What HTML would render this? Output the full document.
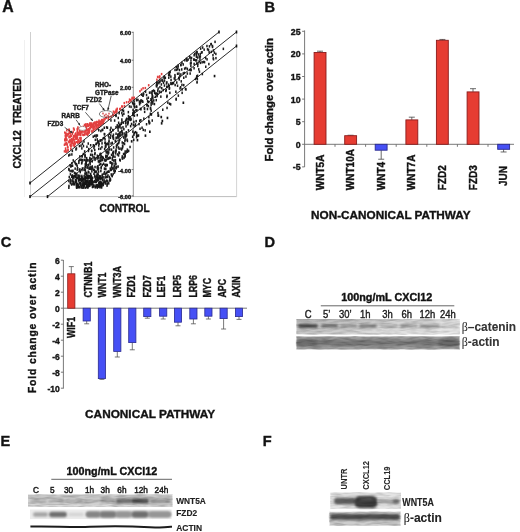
<!DOCTYPE html>
<html><head><meta charset="utf-8"><style>
html,body{margin:0;padding:0;background:#fff;width:520px;height:532px;overflow:hidden;}
svg{display:block;font-family:"Liberation Sans",sans-serif;filter:blur(0.55px);}
text{stroke:#1a1a1a;stroke-width:0.4px;font-family:"Liberation Sans",sans-serif;}
</style></head><body>
<svg width="520" height="532" viewBox="0 0 520 532">
<defs>
<filter id="bl" x="-20%" y="-50%" width="140%" height="200%"><feGaussianBlur stdDeviation="0.9"/></filter>
<filter id="grain" x="0" y="0" width="100%" height="100%" filterUnits="objectBoundingBox"><feTurbulence type="fractalNoise" baseFrequency="0.09 0.45" numOctaves="2" seed="5"/><feColorMatrix type="matrix" values="0 0 0 0 0  0 0 0 0 0  0 0 0 0 0  1.6 0 0 0 -0.55"/></filter>
<filter id="bl2" x="-20%" y="-50%" width="140%" height="200%"><feGaussianBlur stdDeviation="1.6"/></filter>
<linearGradient id="gD1" x1="0" y1="0" x2="0" y2="1">
<stop offset="0" stop-color="#b8b8b8"/><stop offset="0.18" stop-color="#c8c8c8"/><stop offset="0.5" stop-color="#d0d0d0"/><stop offset="1" stop-color="#d8d8d8"/></linearGradient>
<linearGradient id="gD1h" x1="0" y1="0" x2="1" y2="0">
<stop offset="0" stop-color="#000" stop-opacity="0.06"/><stop offset="0.45" stop-color="#fff" stop-opacity="0.12"/><stop offset="1" stop-color="#fff" stop-opacity="0.5"/></linearGradient>
<linearGradient id="gD2" x1="0" y1="0" x2="0" y2="1">
<stop offset="0" stop-color="#a4a4a4"/><stop offset="0.5" stop-color="#8a8a8a"/><stop offset="1" stop-color="#a8a8a8"/></linearGradient>
</defs>
<text transform="translate(2.20,12.30)" font-size="15.80" font-weight="bold" fill="#111" >A</text>
<line x1="30.50" y1="32.00" x2="30.50" y2="197.00" stroke="#cfcfcf" stroke-width="1.00"/>
<line x1="24.50" y1="40.00" x2="24.50" y2="197.00" stroke="#f0f0f0" stroke-width="1.00"/>
<line x1="30.00" y1="196.60" x2="237.00" y2="196.60" stroke="#bdbdbd" stroke-width="1.00"/>
<line x1="236.60" y1="32.00" x2="236.60" y2="197.00" stroke="#d4d4d4" stroke-width="1.00"/>
<line x1="133.30" y1="31.80" x2="133.30" y2="197.00" stroke="#8a8a8a" stroke-width="0.90"/>
<line x1="131.60" y1="32.30" x2="133.30" y2="32.30" stroke="#555" stroke-width="0.80"/>
<text transform="translate(131.00,35.20)" font-size="5.60" font-weight="bold" text-anchor="end" fill="#222" >6.00</text>
<line x1="131.60" y1="60.20" x2="133.30" y2="60.20" stroke="#555" stroke-width="0.80"/>
<text transform="translate(131.00,63.10)" font-size="5.60" font-weight="bold" text-anchor="end" fill="#222" >4.00</text>
<line x1="131.60" y1="87.30" x2="133.30" y2="87.30" stroke="#555" stroke-width="0.80"/>
<text transform="translate(131.00,90.20)" font-size="5.60" font-weight="bold" text-anchor="end" fill="#222" >2.00</text>
<line x1="131.60" y1="169.60" x2="133.30" y2="169.60" stroke="#555" stroke-width="0.80"/>
<text transform="translate(131.00,172.50)" font-size="5.60" font-weight="bold" text-anchor="end" fill="#222" >-4.00</text>
<line x1="131.60" y1="195.80" x2="133.30" y2="195.80" stroke="#555" stroke-width="0.80"/>
<text transform="translate(131.00,198.70)" font-size="5.60" font-weight="bold" text-anchor="end" fill="#222" >-6.00</text>
<rect x="189.4" y="72.3" width="1.5" height="2.5" fill="#1c1c1c"/>
<rect x="136.5" y="113.9" width="1.5" height="2.5" fill="#1c1c1c"/>
<rect x="176.0" y="68.6" width="1.5" height="2.5" fill="#1c1c1c"/>
<rect x="123.1" y="127.9" width="1.5" height="2.5" fill="#1c1c1c"/>
<rect x="89.3" y="160.4" width="1.5" height="2.5" fill="#1c1c1c"/>
<rect x="94.1" y="170.5" width="1.5" height="2.5" fill="#1c1c1c"/>
<rect x="156.4" y="94.8" width="1.5" height="2.5" fill="#1c1c1c"/>
<rect x="120.3" y="126.7" width="1.5" height="2.5" fill="#1c1c1c"/>
<rect x="194.9" y="59.1" width="1.5" height="2.5" fill="#1c1c1c"/>
<rect x="157.0" y="89.4" width="1.5" height="2.5" fill="#1c1c1c"/>
<rect x="105.4" y="158.8" width="1.5" height="2.5" fill="#1c1c1c"/>
<rect x="83.4" y="174.8" width="1.5" height="2.5" fill="#1c1c1c"/>
<rect x="211.8" y="45.7" width="1.5" height="2.5" fill="#1c1c1c"/>
<rect x="201.9" y="46.3" width="1.5" height="2.5" fill="#1c1c1c"/>
<rect x="208.1" y="62.8" width="1.5" height="2.5" fill="#1c1c1c"/>
<rect x="169.4" y="70.7" width="1.5" height="2.5" fill="#1c1c1c"/>
<rect x="187.4" y="58.3" width="1.5" height="2.5" fill="#1c1c1c"/>
<rect x="114.3" y="162.8" width="1.5" height="2.5" fill="#1c1c1c"/>
<rect x="70.6" y="164.6" width="1.5" height="2.5" fill="#1c1c1c"/>
<rect x="127.3" y="120.4" width="1.5" height="2.5" fill="#1c1c1c"/>
<rect x="212.5" y="57.1" width="1.5" height="2.5" fill="#1c1c1c"/>
<rect x="95.7" y="175.0" width="1.5" height="2.5" fill="#1c1c1c"/>
<rect x="94.6" y="138.6" width="1.5" height="2.5" fill="#1c1c1c"/>
<rect x="205.0" y="65.5" width="1.5" height="2.5" fill="#1c1c1c"/>
<rect x="83.4" y="184.7" width="1.5" height="2.5" fill="#1c1c1c"/>
<rect x="102.2" y="183.3" width="1.5" height="2.5" fill="#1c1c1c"/>
<rect x="79.9" y="182.6" width="1.5" height="2.5" fill="#1c1c1c"/>
<rect x="118.9" y="138.5" width="1.5" height="2.5" fill="#1c1c1c"/>
<rect x="75.7" y="147.2" width="1.5" height="2.5" fill="#1c1c1c"/>
<rect x="108.0" y="170.5" width="1.5" height="2.5" fill="#1c1c1c"/>
<rect x="125.0" y="120.1" width="1.5" height="2.5" fill="#1c1c1c"/>
<rect x="125.5" y="133.7" width="1.5" height="2.5" fill="#1c1c1c"/>
<rect x="97.8" y="182.1" width="1.5" height="2.5" fill="#1c1c1c"/>
<rect x="116.7" y="153.2" width="1.5" height="2.5" fill="#1c1c1c"/>
<rect x="135.9" y="134.1" width="1.5" height="2.5" fill="#1c1c1c"/>
<rect x="99.5" y="180.8" width="1.5" height="2.5" fill="#1c1c1c"/>
<rect x="162.5" y="88.8" width="1.5" height="2.5" fill="#1c1c1c"/>
<rect x="200.7" y="51.3" width="1.5" height="2.5" fill="#1c1c1c"/>
<rect x="115.3" y="132.5" width="1.5" height="2.5" fill="#1c1c1c"/>
<rect x="98.0" y="147.6" width="1.5" height="2.5" fill="#1c1c1c"/>
<rect x="168.8" y="87.0" width="1.5" height="2.5" fill="#1c1c1c"/>
<rect x="212.7" y="49.2" width="1.5" height="2.5" fill="#1c1c1c"/>
<rect x="159.1" y="80.6" width="1.5" height="2.5" fill="#1c1c1c"/>
<rect x="118.2" y="151.3" width="1.5" height="2.5" fill="#1c1c1c"/>
<rect x="183.0" y="76.5" width="1.5" height="2.5" fill="#1c1c1c"/>
<rect x="86.3" y="183.7" width="1.5" height="2.5" fill="#1c1c1c"/>
<rect x="85.9" y="173.7" width="1.5" height="2.5" fill="#1c1c1c"/>
<rect x="125.2" y="151.5" width="1.5" height="2.5" fill="#1c1c1c"/>
<rect x="117.0" y="133.6" width="1.5" height="2.5" fill="#1c1c1c"/>
<rect x="112.7" y="133.5" width="1.5" height="2.5" fill="#1c1c1c"/>
<rect x="129.9" y="124.9" width="1.5" height="2.5" fill="#1c1c1c"/>
<rect x="121.0" y="129.6" width="1.5" height="2.5" fill="#1c1c1c"/>
<rect x="89.9" y="144.0" width="1.5" height="2.5" fill="#1c1c1c"/>
<rect x="98.0" y="144.3" width="1.5" height="2.5" fill="#1c1c1c"/>
<rect x="104.5" y="181.9" width="1.5" height="2.5" fill="#1c1c1c"/>
<rect x="207.8" y="48.7" width="1.5" height="2.5" fill="#1c1c1c"/>
<rect x="104.3" y="167.8" width="1.5" height="2.5" fill="#1c1c1c"/>
<rect x="115.1" y="114.0" width="1.5" height="2.5" fill="#1c1c1c"/>
<rect x="177.0" y="67.7" width="1.5" height="2.5" fill="#1c1c1c"/>
<rect x="151.7" y="95.6" width="1.5" height="2.5" fill="#1c1c1c"/>
<rect x="112.6" y="136.6" width="1.5" height="2.5" fill="#1c1c1c"/>
<rect x="111.6" y="158.4" width="1.5" height="2.5" fill="#1c1c1c"/>
<rect x="151.9" y="95.2" width="1.5" height="2.5" fill="#1c1c1c"/>
<rect x="132.8" y="102.7" width="1.5" height="2.5" fill="#1c1c1c"/>
<rect x="171.6" y="81.9" width="1.5" height="2.5" fill="#1c1c1c"/>
<rect x="104.7" y="145.8" width="1.5" height="2.5" fill="#1c1c1c"/>
<rect x="87.1" y="186.4" width="1.5" height="2.5" fill="#1c1c1c"/>
<rect x="127.7" y="114.9" width="1.5" height="2.5" fill="#1c1c1c"/>
<rect x="140.2" y="108.0" width="1.5" height="2.5" fill="#1c1c1c"/>
<rect x="84.3" y="168.4" width="1.5" height="2.5" fill="#1c1c1c"/>
<rect x="112.3" y="154.7" width="1.5" height="2.5" fill="#1c1c1c"/>
<rect x="208.4" y="51.1" width="1.5" height="2.5" fill="#1c1c1c"/>
<rect x="117.2" y="126.9" width="1.5" height="2.5" fill="#1c1c1c"/>
<rect x="214.3" y="40.6" width="1.5" height="2.5" fill="#1c1c1c"/>
<rect x="170.1" y="81.9" width="1.5" height="2.5" fill="#1c1c1c"/>
<rect x="85.6" y="162.5" width="1.5" height="2.5" fill="#1c1c1c"/>
<rect x="193.4" y="62.7" width="1.5" height="2.5" fill="#1c1c1c"/>
<rect x="213.6" y="51.4" width="1.5" height="2.5" fill="#1c1c1c"/>
<rect x="78.7" y="144.8" width="1.5" height="2.5" fill="#1c1c1c"/>
<rect x="81.1" y="147.1" width="1.5" height="2.5" fill="#1c1c1c"/>
<rect x="103.1" y="172.5" width="1.5" height="2.5" fill="#1c1c1c"/>
<rect x="68.0" y="154.2" width="1.5" height="2.5" fill="#1c1c1c"/>
<rect x="122.7" y="121.4" width="1.5" height="2.5" fill="#1c1c1c"/>
<rect x="87.4" y="182.6" width="1.5" height="2.5" fill="#1c1c1c"/>
<rect x="178.5" y="78.1" width="1.5" height="2.5" fill="#1c1c1c"/>
<rect x="174.3" y="68.7" width="1.5" height="2.5" fill="#1c1c1c"/>
<rect x="107.1" y="142.6" width="1.5" height="2.5" fill="#1c1c1c"/>
<rect x="126.7" y="139.7" width="1.5" height="2.5" fill="#1c1c1c"/>
<rect x="85.6" y="171.6" width="1.5" height="2.5" fill="#1c1c1c"/>
<rect x="123.1" y="112.5" width="1.5" height="2.5" fill="#1c1c1c"/>
<rect x="123.3" y="156.6" width="1.5" height="2.5" fill="#1c1c1c"/>
<rect x="168.4" y="71.7" width="1.5" height="2.5" fill="#1c1c1c"/>
<rect x="102.6" y="137.0" width="1.5" height="2.5" fill="#1c1c1c"/>
<rect x="121.8" y="114.1" width="1.5" height="2.5" fill="#1c1c1c"/>
<rect x="101.9" y="178.8" width="1.5" height="2.5" fill="#1c1c1c"/>
<rect x="168.8" y="102.5" width="1.5" height="2.5" fill="#1c1c1c"/>
<rect x="106.3" y="155.1" width="1.5" height="2.5" fill="#1c1c1c"/>
<rect x="160.4" y="90.7" width="1.5" height="2.5" fill="#1c1c1c"/>
<rect x="81.8" y="159.1" width="1.5" height="2.5" fill="#1c1c1c"/>
<rect x="130.3" y="105.6" width="1.5" height="2.5" fill="#1c1c1c"/>
<rect x="125.5" y="131.0" width="1.5" height="2.5" fill="#1c1c1c"/>
<rect x="96.9" y="157.2" width="1.5" height="2.5" fill="#1c1c1c"/>
<rect x="151.5" y="90.0" width="1.5" height="2.5" fill="#1c1c1c"/>
<rect x="104.7" y="144.1" width="1.5" height="2.5" fill="#1c1c1c"/>
<rect x="148.1" y="115.9" width="1.5" height="2.5" fill="#1c1c1c"/>
<rect x="151.2" y="92.1" width="1.5" height="2.5" fill="#1c1c1c"/>
<rect x="131.9" y="135.5" width="1.5" height="2.5" fill="#1c1c1c"/>
<rect x="91.1" y="170.1" width="1.5" height="2.5" fill="#1c1c1c"/>
<rect x="105.0" y="155.4" width="1.5" height="2.5" fill="#1c1c1c"/>
<rect x="134.0" y="106.0" width="1.5" height="2.5" fill="#1c1c1c"/>
<rect x="103.5" y="180.6" width="1.5" height="2.5" fill="#1c1c1c"/>
<rect x="109.8" y="178.4" width="1.5" height="2.5" fill="#1c1c1c"/>
<rect x="79.1" y="168.1" width="1.5" height="2.5" fill="#1c1c1c"/>
<rect x="122.9" y="142.0" width="1.5" height="2.5" fill="#1c1c1c"/>
<rect x="112.9" y="159.3" width="1.5" height="2.5" fill="#1c1c1c"/>
<rect x="126.8" y="150.5" width="1.5" height="2.5" fill="#1c1c1c"/>
<rect x="71.2" y="179.4" width="1.5" height="2.5" fill="#1c1c1c"/>
<rect x="85.4" y="161.0" width="1.5" height="2.5" fill="#1c1c1c"/>
<rect x="82.6" y="152.8" width="1.5" height="2.5" fill="#1c1c1c"/>
<rect x="156.2" y="81.2" width="1.5" height="2.5" fill="#1c1c1c"/>
<rect x="79.1" y="182.1" width="1.5" height="2.5" fill="#1c1c1c"/>
<rect x="105.3" y="149.8" width="1.5" height="2.5" fill="#1c1c1c"/>
<rect x="115.2" y="162.6" width="1.5" height="2.5" fill="#1c1c1c"/>
<rect x="106.4" y="179.6" width="1.5" height="2.5" fill="#1c1c1c"/>
<rect x="100.5" y="165.8" width="1.5" height="2.5" fill="#1c1c1c"/>
<rect x="165.5" y="88.9" width="1.5" height="2.5" fill="#1c1c1c"/>
<rect x="97.4" y="155.4" width="1.5" height="2.5" fill="#1c1c1c"/>
<rect x="107.3" y="152.8" width="1.5" height="2.5" fill="#1c1c1c"/>
<rect x="115.3" y="114.7" width="1.5" height="2.5" fill="#1c1c1c"/>
<rect x="154.7" y="92.4" width="1.5" height="2.5" fill="#1c1c1c"/>
<rect x="115.4" y="167.1" width="1.5" height="2.5" fill="#1c1c1c"/>
<rect x="94.0" y="152.9" width="1.5" height="2.5" fill="#1c1c1c"/>
<rect x="71.7" y="174.2" width="1.5" height="2.5" fill="#1c1c1c"/>
<rect x="84.6" y="165.5" width="1.5" height="2.5" fill="#1c1c1c"/>
<rect x="166.3" y="94.5" width="1.5" height="2.5" fill="#1c1c1c"/>
<rect x="106.8" y="151.0" width="1.5" height="2.5" fill="#1c1c1c"/>
<rect x="89.1" y="181.9" width="1.5" height="2.5" fill="#1c1c1c"/>
<rect x="142.9" y="92.8" width="1.5" height="2.5" fill="#1c1c1c"/>
<rect x="142.5" y="128.6" width="1.5" height="2.5" fill="#1c1c1c"/>
<rect x="109.2" y="179.4" width="1.5" height="2.5" fill="#1c1c1c"/>
<rect x="201.3" y="51.0" width="1.5" height="2.5" fill="#1c1c1c"/>
<rect x="81.2" y="155.0" width="1.5" height="2.5" fill="#1c1c1c"/>
<rect x="102.8" y="182.2" width="1.5" height="2.5" fill="#1c1c1c"/>
<rect x="75.2" y="148.2" width="1.5" height="2.5" fill="#1c1c1c"/>
<rect x="133.1" y="133.5" width="1.5" height="2.5" fill="#1c1c1c"/>
<rect x="183.6" y="71.7" width="1.5" height="2.5" fill="#1c1c1c"/>
<rect x="196.6" y="78.0" width="1.5" height="2.5" fill="#1c1c1c"/>
<rect x="68.5" y="175.8" width="1.5" height="2.5" fill="#1c1c1c"/>
<rect x="93.1" y="185.1" width="1.5" height="2.5" fill="#1c1c1c"/>
<rect x="93.6" y="168.9" width="1.5" height="2.5" fill="#1c1c1c"/>
<rect x="94.3" y="152.0" width="1.5" height="2.5" fill="#1c1c1c"/>
<rect x="106.6" y="182.9" width="1.5" height="2.5" fill="#1c1c1c"/>
<rect x="112.6" y="136.2" width="1.5" height="2.5" fill="#1c1c1c"/>
<rect x="139.7" y="107.6" width="1.5" height="2.5" fill="#1c1c1c"/>
<rect x="199.7" y="61.6" width="1.5" height="2.5" fill="#1c1c1c"/>
<rect x="190.1" y="64.8" width="1.5" height="2.5" fill="#1c1c1c"/>
<rect x="84.6" y="162.9" width="1.5" height="2.5" fill="#1c1c1c"/>
<rect x="100.0" y="162.8" width="1.5" height="2.5" fill="#1c1c1c"/>
<rect x="126.0" y="117.5" width="1.5" height="2.5" fill="#1c1c1c"/>
<rect x="91.0" y="149.7" width="1.5" height="2.5" fill="#1c1c1c"/>
<rect x="71.1" y="175.4" width="1.5" height="2.5" fill="#1c1c1c"/>
<rect x="133.7" y="114.4" width="1.5" height="2.5" fill="#1c1c1c"/>
<rect x="163.5" y="76.9" width="1.5" height="2.5" fill="#1c1c1c"/>
<rect x="104.3" y="138.2" width="1.5" height="2.5" fill="#1c1c1c"/>
<rect x="198.7" y="70.4" width="1.5" height="2.5" fill="#1c1c1c"/>
<rect x="88.0" y="181.2" width="1.5" height="2.5" fill="#1c1c1c"/>
<rect x="100.4" y="167.0" width="1.5" height="2.5" fill="#1c1c1c"/>
<rect x="166.2" y="85.6" width="1.5" height="2.5" fill="#1c1c1c"/>
<rect x="162.8" y="81.6" width="1.5" height="2.5" fill="#1c1c1c"/>
<rect x="74.9" y="172.2" width="1.5" height="2.5" fill="#1c1c1c"/>
<rect x="100.4" y="183.0" width="1.5" height="2.5" fill="#1c1c1c"/>
<rect x="135.5" y="105.4" width="1.5" height="2.5" fill="#1c1c1c"/>
<rect x="108.0" y="182.1" width="1.5" height="2.5" fill="#1c1c1c"/>
<rect x="71.4" y="170.1" width="1.5" height="2.5" fill="#1c1c1c"/>
<rect x="195.8" y="76.5" width="1.5" height="2.5" fill="#1c1c1c"/>
<rect x="183.9" y="67.4" width="1.5" height="2.5" fill="#1c1c1c"/>
<rect x="104.7" y="141.5" width="1.5" height="2.5" fill="#1c1c1c"/>
<rect x="111.8" y="167.3" width="1.5" height="2.5" fill="#1c1c1c"/>
<rect x="128.7" y="105.2" width="1.5" height="2.5" fill="#1c1c1c"/>
<rect x="100.1" y="129.8" width="1.5" height="2.5" fill="#1c1c1c"/>
<rect x="114.5" y="169.7" width="1.5" height="2.5" fill="#1c1c1c"/>
<rect x="74.4" y="167.4" width="1.5" height="2.5" fill="#1c1c1c"/>
<rect x="100.0" y="175.2" width="1.5" height="2.5" fill="#1c1c1c"/>
<rect x="124.3" y="153.5" width="1.5" height="2.5" fill="#1c1c1c"/>
<rect x="91.5" y="160.1" width="1.5" height="2.5" fill="#1c1c1c"/>
<rect x="129.5" y="118.7" width="1.5" height="2.5" fill="#1c1c1c"/>
<rect x="79.5" y="170.9" width="1.5" height="2.5" fill="#1c1c1c"/>
<rect x="211.7" y="44.7" width="1.5" height="2.5" fill="#1c1c1c"/>
<rect x="117.5" y="125.8" width="1.5" height="2.5" fill="#1c1c1c"/>
<rect x="97.6" y="160.1" width="1.5" height="2.5" fill="#1c1c1c"/>
<rect x="103.1" y="176.1" width="1.5" height="2.5" fill="#1c1c1c"/>
<rect x="147.6" y="104.8" width="1.5" height="2.5" fill="#1c1c1c"/>
<rect x="153.7" y="90.0" width="1.5" height="2.5" fill="#1c1c1c"/>
<rect x="166.1" y="85.7" width="1.5" height="2.5" fill="#1c1c1c"/>
<rect x="121.7" y="147.0" width="1.5" height="2.5" fill="#1c1c1c"/>
<rect x="94.8" y="177.8" width="1.5" height="2.5" fill="#1c1c1c"/>
<rect x="139.0" y="119.5" width="1.5" height="2.5" fill="#1c1c1c"/>
<rect x="121.1" y="129.8" width="1.5" height="2.5" fill="#1c1c1c"/>
<rect x="103.8" y="170.9" width="1.5" height="2.5" fill="#1c1c1c"/>
<rect x="132.6" y="113.7" width="1.5" height="2.5" fill="#1c1c1c"/>
<rect x="95.0" y="178.3" width="1.5" height="2.5" fill="#1c1c1c"/>
<rect x="101.7" y="174.7" width="1.5" height="2.5" fill="#1c1c1c"/>
<rect x="72.1" y="182.7" width="1.5" height="2.5" fill="#1c1c1c"/>
<rect x="133.4" y="104.4" width="1.5" height="2.5" fill="#1c1c1c"/>
<rect x="106.0" y="171.8" width="1.5" height="2.5" fill="#1c1c1c"/>
<rect x="132.9" y="110.1" width="1.5" height="2.5" fill="#1c1c1c"/>
<rect x="129.3" y="145.7" width="1.5" height="2.5" fill="#1c1c1c"/>
<rect x="114.3" y="159.1" width="1.5" height="2.5" fill="#1c1c1c"/>
<rect x="197.6" y="53.2" width="1.5" height="2.5" fill="#1c1c1c"/>
<rect x="94.7" y="170.5" width="1.5" height="2.5" fill="#1c1c1c"/>
<rect x="121.6" y="132.0" width="1.5" height="2.5" fill="#1c1c1c"/>
<rect x="95.2" y="157.2" width="1.5" height="2.5" fill="#1c1c1c"/>
<rect x="175.5" y="65.9" width="1.5" height="2.5" fill="#1c1c1c"/>
<rect x="94.3" y="165.8" width="1.5" height="2.5" fill="#1c1c1c"/>
<rect x="88.5" y="179.8" width="1.5" height="2.5" fill="#1c1c1c"/>
<rect x="194.8" y="77.7" width="1.5" height="2.5" fill="#1c1c1c"/>
<rect x="107.2" y="174.2" width="1.5" height="2.5" fill="#1c1c1c"/>
<rect x="180.1" y="63.8" width="1.5" height="2.5" fill="#1c1c1c"/>
<rect x="108.8" y="132.5" width="1.5" height="2.5" fill="#1c1c1c"/>
<rect x="105.2" y="154.5" width="1.5" height="2.5" fill="#1c1c1c"/>
<rect x="97.1" y="185.6" width="1.5" height="2.5" fill="#1c1c1c"/>
<rect x="120.2" y="130.9" width="1.5" height="2.5" fill="#1c1c1c"/>
<rect x="68.1" y="167.8" width="1.5" height="2.5" fill="#1c1c1c"/>
<rect x="87.2" y="179.1" width="1.5" height="2.5" fill="#1c1c1c"/>
<rect x="99.1" y="186.0" width="1.5" height="2.5" fill="#1c1c1c"/>
<rect x="160.2" y="79.3" width="1.5" height="2.5" fill="#1c1c1c"/>
<rect x="129.5" y="118.2" width="1.5" height="2.5" fill="#1c1c1c"/>
<rect x="105.2" y="155.8" width="1.5" height="2.5" fill="#1c1c1c"/>
<rect x="118.4" y="111.9" width="1.5" height="2.5" fill="#1c1c1c"/>
<rect x="106.5" y="163.9" width="1.5" height="2.5" fill="#1c1c1c"/>
<rect x="69.8" y="181.8" width="1.5" height="2.5" fill="#1c1c1c"/>
<rect x="81.9" y="158.8" width="1.5" height="2.5" fill="#1c1c1c"/>
<rect x="75.6" y="180.4" width="1.5" height="2.5" fill="#1c1c1c"/>
<rect x="81.1" y="174.7" width="1.5" height="2.5" fill="#1c1c1c"/>
<rect x="123.8" y="142.7" width="1.5" height="2.5" fill="#1c1c1c"/>
<rect x="97.8" y="167.1" width="1.5" height="2.5" fill="#1c1c1c"/>
<rect x="93.2" y="180.8" width="1.5" height="2.5" fill="#1c1c1c"/>
<rect x="222.6" y="47.6" width="1.5" height="2.5" fill="#1c1c1c"/>
<rect x="133.5" y="110.4" width="1.5" height="2.5" fill="#1c1c1c"/>
<rect x="123.0" y="136.3" width="1.5" height="2.5" fill="#1c1c1c"/>
<rect x="89.2" y="166.2" width="1.5" height="2.5" fill="#1c1c1c"/>
<rect x="79.2" y="158.6" width="1.5" height="2.5" fill="#1c1c1c"/>
<rect x="153.9" y="91.5" width="1.5" height="2.5" fill="#1c1c1c"/>
<rect x="96.8" y="167.9" width="1.5" height="2.5" fill="#1c1c1c"/>
<rect x="108.6" y="175.7" width="1.5" height="2.5" fill="#1c1c1c"/>
<rect x="99.3" y="152.8" width="1.5" height="2.5" fill="#1c1c1c"/>
<rect x="181.2" y="61.5" width="1.5" height="2.5" fill="#1c1c1c"/>
<rect x="103.7" y="167.4" width="1.5" height="2.5" fill="#1c1c1c"/>
<rect x="113.1" y="169.3" width="1.5" height="2.5" fill="#1c1c1c"/>
<rect x="72.3" y="169.6" width="1.5" height="2.5" fill="#1c1c1c"/>
<rect x="161.4" y="78.6" width="1.5" height="2.5" fill="#1c1c1c"/>
<rect x="132.0" y="113.4" width="1.5" height="2.5" fill="#1c1c1c"/>
<rect x="210.2" y="43.0" width="1.5" height="2.5" fill="#1c1c1c"/>
<rect x="91.0" y="157.8" width="1.5" height="2.5" fill="#1c1c1c"/>
<rect x="112.6" y="150.8" width="1.5" height="2.5" fill="#1c1c1c"/>
<rect x="135.8" y="99.0" width="1.5" height="2.5" fill="#1c1c1c"/>
<rect x="106.8" y="175.6" width="1.5" height="2.5" fill="#1c1c1c"/>
<rect x="116.5" y="124.1" width="1.5" height="2.5" fill="#1c1c1c"/>
<rect x="110.2" y="126.6" width="1.5" height="2.5" fill="#1c1c1c"/>
<rect x="113.9" y="164.9" width="1.5" height="2.5" fill="#1c1c1c"/>
<rect x="101.2" y="139.0" width="1.5" height="2.5" fill="#1c1c1c"/>
<rect x="97.4" y="141.5" width="1.5" height="2.5" fill="#1c1c1c"/>
<rect x="141.3" y="126.5" width="1.5" height="2.5" fill="#1c1c1c"/>
<rect x="182.5" y="72.2" width="1.5" height="2.5" fill="#1c1c1c"/>
<rect x="75.0" y="179.5" width="1.5" height="2.5" fill="#1c1c1c"/>
<rect x="98.9" y="183.1" width="1.5" height="2.5" fill="#1c1c1c"/>
<rect x="206.3" y="58.1" width="1.5" height="2.5" fill="#1c1c1c"/>
<rect x="150.2" y="113.3" width="1.5" height="2.5" fill="#1c1c1c"/>
<rect x="104.9" y="159.3" width="1.5" height="2.5" fill="#1c1c1c"/>
<rect x="176.8" y="72.5" width="1.5" height="2.5" fill="#1c1c1c"/>
<rect x="143.6" y="106.8" width="1.5" height="2.5" fill="#1c1c1c"/>
<rect x="98.4" y="174.9" width="1.5" height="2.5" fill="#1c1c1c"/>
<rect x="195.7" y="55.6" width="1.5" height="2.5" fill="#1c1c1c"/>
<rect x="134.2" y="124.6" width="1.5" height="2.5" fill="#1c1c1c"/>
<rect x="74.9" y="175.4" width="1.5" height="2.5" fill="#1c1c1c"/>
<rect x="84.3" y="155.6" width="1.5" height="2.5" fill="#1c1c1c"/>
<rect x="72.5" y="159.2" width="1.5" height="2.5" fill="#1c1c1c"/>
<rect x="121.2" y="120.4" width="1.5" height="2.5" fill="#1c1c1c"/>
<rect x="112.3" y="166.6" width="1.5" height="2.5" fill="#1c1c1c"/>
<rect x="95.4" y="180.7" width="1.5" height="2.5" fill="#1c1c1c"/>
<rect x="117.8" y="154.2" width="1.5" height="2.5" fill="#1c1c1c"/>
<rect x="78.1" y="176.6" width="1.5" height="2.5" fill="#1c1c1c"/>
<rect x="78.0" y="184.1" width="1.5" height="2.5" fill="#1c1c1c"/>
<rect x="107.3" y="148.5" width="1.5" height="2.5" fill="#1c1c1c"/>
<rect x="101.6" y="163.8" width="1.5" height="2.5" fill="#1c1c1c"/>
<rect x="125.9" y="134.1" width="1.5" height="2.5" fill="#1c1c1c"/>
<rect x="127.9" y="149.6" width="1.5" height="2.5" fill="#1c1c1c"/>
<rect x="78.7" y="176.3" width="1.5" height="2.5" fill="#1c1c1c"/>
<rect x="103.9" y="133.1" width="1.5" height="2.5" fill="#1c1c1c"/>
<rect x="122.1" y="132.4" width="1.5" height="2.5" fill="#1c1c1c"/>
<rect x="108.3" y="139.3" width="1.5" height="2.5" fill="#1c1c1c"/>
<rect x="163.6" y="76.6" width="1.5" height="2.5" fill="#1c1c1c"/>
<rect x="134.7" y="123.2" width="1.5" height="2.5" fill="#1c1c1c"/>
<rect x="77.3" y="174.8" width="1.5" height="2.5" fill="#1c1c1c"/>
<rect x="127.7" y="129.1" width="1.5" height="2.5" fill="#1c1c1c"/>
<rect x="199.2" y="57.7" width="1.5" height="2.5" fill="#1c1c1c"/>
<rect x="196.0" y="75.1" width="1.5" height="2.5" fill="#1c1c1c"/>
<rect x="155.8" y="85.1" width="1.5" height="2.5" fill="#1c1c1c"/>
<rect x="93.2" y="146.7" width="1.5" height="2.5" fill="#1c1c1c"/>
<rect x="89.6" y="167.6" width="1.5" height="2.5" fill="#1c1c1c"/>
<rect x="118.3" y="140.1" width="1.5" height="2.5" fill="#1c1c1c"/>
<rect x="96.5" y="174.1" width="1.5" height="2.5" fill="#1c1c1c"/>
<rect x="135.8" y="136.0" width="1.5" height="2.5" fill="#1c1c1c"/>
<rect x="210.6" y="50.6" width="1.5" height="2.5" fill="#1c1c1c"/>
<rect x="100.5" y="155.1" width="1.5" height="2.5" fill="#1c1c1c"/>
<rect x="89.9" y="153.5" width="1.5" height="2.5" fill="#1c1c1c"/>
<rect x="103.9" y="147.7" width="1.5" height="2.5" fill="#1c1c1c"/>
<rect x="92.3" y="181.0" width="1.5" height="2.5" fill="#1c1c1c"/>
<rect x="189.1" y="55.8" width="1.5" height="2.5" fill="#1c1c1c"/>
<rect x="104.2" y="159.3" width="1.5" height="2.5" fill="#1c1c1c"/>
<rect x="141.5" y="99.8" width="1.5" height="2.5" fill="#1c1c1c"/>
<rect x="117.9" y="121.5" width="1.5" height="2.5" fill="#1c1c1c"/>
<rect x="175.4" y="98.3" width="1.5" height="2.5" fill="#1c1c1c"/>
<rect x="195.6" y="54.0" width="1.5" height="2.5" fill="#1c1c1c"/>
<rect x="130.4" y="118.2" width="1.5" height="2.5" fill="#1c1c1c"/>
<rect x="193.4" y="54.0" width="1.5" height="2.5" fill="#1c1c1c"/>
<rect x="178.0" y="76.6" width="1.5" height="2.5" fill="#1c1c1c"/>
<rect x="133.2" y="111.1" width="1.5" height="2.5" fill="#1c1c1c"/>
<rect x="92.8" y="168.6" width="1.5" height="2.5" fill="#1c1c1c"/>
<rect x="87.0" y="165.4" width="1.5" height="2.5" fill="#1c1c1c"/>
<rect x="125.3" y="118.7" width="1.5" height="2.5" fill="#1c1c1c"/>
<rect x="91.9" y="166.8" width="1.5" height="2.5" fill="#1c1c1c"/>
<rect x="110.8" y="153.6" width="1.5" height="2.5" fill="#1c1c1c"/>
<rect x="197.0" y="64.7" width="1.5" height="2.5" fill="#1c1c1c"/>
<rect x="69.4" y="169.8" width="1.5" height="2.5" fill="#1c1c1c"/>
<rect x="99.4" y="139.2" width="1.5" height="2.5" fill="#1c1c1c"/>
<rect x="125.8" y="150.2" width="1.5" height="2.5" fill="#1c1c1c"/>
<rect x="75.8" y="163.0" width="1.5" height="2.5" fill="#1c1c1c"/>
<rect x="118.4" y="134.2" width="1.5" height="2.5" fill="#1c1c1c"/>
<rect x="75.5" y="176.6" width="1.5" height="2.5" fill="#1c1c1c"/>
<rect x="111.5" y="141.6" width="1.5" height="2.5" fill="#1c1c1c"/>
<rect x="121.9" y="157.2" width="1.5" height="2.5" fill="#1c1c1c"/>
<rect x="177.6" y="94.4" width="1.5" height="2.5" fill="#1c1c1c"/>
<rect x="193.0" y="58.3" width="1.5" height="2.5" fill="#1c1c1c"/>
<rect x="101.0" y="184.6" width="1.5" height="2.5" fill="#1c1c1c"/>
<rect x="180.5" y="80.1" width="1.5" height="2.5" fill="#1c1c1c"/>
<rect x="76.4" y="185.9" width="1.5" height="2.5" fill="#1c1c1c"/>
<rect x="73.1" y="177.0" width="1.5" height="2.5" fill="#1c1c1c"/>
<rect x="212.2" y="54.0" width="1.5" height="2.5" fill="#1c1c1c"/>
<rect x="119.0" y="158.5" width="1.5" height="2.5" fill="#1c1c1c"/>
<rect x="179.3" y="87.2" width="1.5" height="2.5" fill="#1c1c1c"/>
<rect x="172.1" y="82.0" width="1.5" height="2.5" fill="#1c1c1c"/>
<rect x="104.8" y="176.1" width="1.5" height="2.5" fill="#1c1c1c"/>
<rect x="136.0" y="98.5" width="1.5" height="2.5" fill="#1c1c1c"/>
<rect x="132.3" y="112.6" width="1.5" height="2.5" fill="#1c1c1c"/>
<rect x="196.8" y="74.5" width="1.5" height="2.5" fill="#1c1c1c"/>
<rect x="86.9" y="180.5" width="1.5" height="2.5" fill="#1c1c1c"/>
<rect x="80.9" y="162.1" width="1.5" height="2.5" fill="#1c1c1c"/>
<rect x="118.7" y="151.8" width="1.5" height="2.5" fill="#1c1c1c"/>
<rect x="95.7" y="142.8" width="1.5" height="2.5" fill="#1c1c1c"/>
<rect x="149.0" y="121.7" width="1.5" height="2.5" fill="#1c1c1c"/>
<rect x="87.7" y="185.3" width="1.5" height="2.5" fill="#1c1c1c"/>
<rect x="196.2" y="51.3" width="1.5" height="2.5" fill="#1c1c1c"/>
<rect x="124.4" y="150.3" width="1.5" height="2.5" fill="#1c1c1c"/>
<rect x="162.0" y="108.5" width="1.5" height="2.5" fill="#1c1c1c"/>
<rect x="103.9" y="158.3" width="1.5" height="2.5" fill="#1c1c1c"/>
<rect x="88.0" y="147.8" width="1.5" height="2.5" fill="#1c1c1c"/>
<rect x="90.5" y="181.8" width="1.5" height="2.5" fill="#1c1c1c"/>
<rect x="124.2" y="139.6" width="1.5" height="2.5" fill="#1c1c1c"/>
<rect x="81.4" y="186.5" width="1.5" height="2.5" fill="#1c1c1c"/>
<rect x="125.3" y="135.1" width="1.5" height="2.5" fill="#1c1c1c"/>
<rect x="114.6" y="160.9" width="1.5" height="2.5" fill="#1c1c1c"/>
<rect x="142.1" y="100.5" width="1.5" height="2.5" fill="#1c1c1c"/>
<rect x="106.0" y="175.8" width="1.5" height="2.5" fill="#1c1c1c"/>
<rect x="133.4" y="100.2" width="1.5" height="2.5" fill="#1c1c1c"/>
<rect x="76.6" y="184.3" width="1.5" height="2.5" fill="#1c1c1c"/>
<rect x="137.2" y="98.7" width="1.5" height="2.5" fill="#1c1c1c"/>
<rect x="85.3" y="162.1" width="1.5" height="2.5" fill="#1c1c1c"/>
<rect x="203.8" y="60.9" width="1.5" height="2.5" fill="#1c1c1c"/>
<rect x="95.3" y="175.9" width="1.5" height="2.5" fill="#1c1c1c"/>
<rect x="96.7" y="165.7" width="1.5" height="2.5" fill="#1c1c1c"/>
<rect x="92.5" y="135.4" width="1.5" height="2.5" fill="#1c1c1c"/>
<rect x="105.8" y="163.7" width="1.5" height="2.5" fill="#1c1c1c"/>
<rect x="115.8" y="145.9" width="1.5" height="2.5" fill="#1c1c1c"/>
<rect x="180.1" y="73.2" width="1.5" height="2.5" fill="#1c1c1c"/>
<rect x="127.6" y="110.9" width="1.5" height="2.5" fill="#1c1c1c"/>
<rect x="140.4" y="99.2" width="1.5" height="2.5" fill="#1c1c1c"/>
<rect x="163.8" y="79.4" width="1.5" height="2.5" fill="#1c1c1c"/>
<rect x="212.8" y="58.0" width="1.5" height="2.5" fill="#1c1c1c"/>
<rect x="91.4" y="153.6" width="1.5" height="2.5" fill="#1c1c1c"/>
<rect x="121.9" y="155.9" width="1.5" height="2.5" fill="#1c1c1c"/>
<rect x="91.5" y="167.2" width="1.5" height="2.5" fill="#1c1c1c"/>
<rect x="168.0" y="76.4" width="1.5" height="2.5" fill="#1c1c1c"/>
<rect x="171.1" y="82.7" width="1.5" height="2.5" fill="#1c1c1c"/>
<rect x="155.8" y="83.9" width="1.5" height="2.5" fill="#1c1c1c"/>
<rect x="99.9" y="139.3" width="1.5" height="2.5" fill="#1c1c1c"/>
<rect x="190.2" y="59.3" width="1.5" height="2.5" fill="#1c1c1c"/>
<rect x="80.3" y="144.4" width="1.5" height="2.5" fill="#1c1c1c"/>
<rect x="168.7" y="71.7" width="1.5" height="2.5" fill="#1c1c1c"/>
<rect x="117.4" y="129.3" width="1.5" height="2.5" fill="#1c1c1c"/>
<rect x="90.3" y="166.6" width="1.5" height="2.5" fill="#1c1c1c"/>
<rect x="93.3" y="180.5" width="1.5" height="2.5" fill="#1c1c1c"/>
<rect x="105.6" y="143.0" width="1.5" height="2.5" fill="#1c1c1c"/>
<rect x="86.2" y="145.5" width="1.5" height="2.5" fill="#1c1c1c"/>
<rect x="121.8" y="144.4" width="1.5" height="2.5" fill="#1c1c1c"/>
<rect x="175.1" y="90.5" width="1.5" height="2.5" fill="#1c1c1c"/>
<rect x="84.4" y="172.9" width="1.5" height="2.5" fill="#1c1c1c"/>
<rect x="109.5" y="167.4" width="1.5" height="2.5" fill="#1c1c1c"/>
<rect x="146.4" y="103.9" width="1.5" height="2.5" fill="#1c1c1c"/>
<rect x="90.0" y="172.7" width="1.5" height="2.5" fill="#1c1c1c"/>
<rect x="84.6" y="169.4" width="1.5" height="2.5" fill="#1c1c1c"/>
<rect x="98.8" y="160.0" width="1.5" height="2.5" fill="#1c1c1c"/>
<rect x="128.4" y="116.0" width="1.5" height="2.5" fill="#1c1c1c"/>
<rect x="87.1" y="175.2" width="1.5" height="2.5" fill="#1c1c1c"/>
<rect x="86.1" y="172.4" width="1.5" height="2.5" fill="#1c1c1c"/>
<rect x="98.4" y="142.4" width="1.5" height="2.5" fill="#1c1c1c"/>
<rect x="111.1" y="163.5" width="1.5" height="2.5" fill="#1c1c1c"/>
<rect x="103.5" y="180.6" width="1.5" height="2.5" fill="#1c1c1c"/>
<rect x="103.3" y="178.5" width="1.5" height="2.5" fill="#1c1c1c"/>
<rect x="169.9" y="103.1" width="1.5" height="2.5" fill="#1c1c1c"/>
<rect x="114.8" y="152.1" width="1.5" height="2.5" fill="#1c1c1c"/>
<rect x="104.8" y="180.4" width="1.5" height="2.5" fill="#1c1c1c"/>
<rect x="130.8" y="122.7" width="1.5" height="2.5" fill="#1c1c1c"/>
<rect x="118.2" y="135.5" width="1.5" height="2.5" fill="#1c1c1c"/>
<rect x="77.7" y="174.4" width="1.5" height="2.5" fill="#1c1c1c"/>
<rect x="178.7" y="68.8" width="1.5" height="2.5" fill="#1c1c1c"/>
<rect x="136.1" y="109.0" width="1.5" height="2.5" fill="#1c1c1c"/>
<rect x="174.4" y="78.4" width="1.5" height="2.5" fill="#1c1c1c"/>
<rect x="148.5" y="122.0" width="1.5" height="2.5" fill="#1c1c1c"/>
<rect x="127.2" y="121.8" width="1.5" height="2.5" fill="#1c1c1c"/>
<rect x="122.0" y="145.2" width="1.5" height="2.5" fill="#1c1c1c"/>
<rect x="70.9" y="183.3" width="1.5" height="2.5" fill="#1c1c1c"/>
<rect x="79.1" y="174.6" width="1.5" height="2.5" fill="#1c1c1c"/>
<rect x="146.2" y="104.0" width="1.5" height="2.5" fill="#1c1c1c"/>
<rect x="108.2" y="136.2" width="1.5" height="2.5" fill="#1c1c1c"/>
<rect x="108.1" y="143.2" width="1.5" height="2.5" fill="#1c1c1c"/>
<rect x="119.3" y="133.9" width="1.5" height="2.5" fill="#1c1c1c"/>
<rect x="148.8" y="91.4" width="1.5" height="2.5" fill="#1c1c1c"/>
<rect x="71.1" y="169.6" width="1.5" height="2.5" fill="#1c1c1c"/>
<rect x="78.1" y="159.8" width="1.5" height="2.5" fill="#1c1c1c"/>
<rect x="87.5" y="170.5" width="1.5" height="2.5" fill="#1c1c1c"/>
<rect x="124.1" y="155.5" width="1.5" height="2.5" fill="#1c1c1c"/>
<rect x="112.5" y="155.2" width="1.5" height="2.5" fill="#1c1c1c"/>
<rect x="74.1" y="161.0" width="1.5" height="2.5" fill="#1c1c1c"/>
<rect x="176.0" y="81.3" width="1.5" height="2.5" fill="#1c1c1c"/>
<rect x="127.8" y="117.9" width="1.5" height="2.5" fill="#1c1c1c"/>
<rect x="148.1" y="119.7" width="1.5" height="2.5" fill="#1c1c1c"/>
<rect x="83.9" y="150.2" width="1.5" height="2.5" fill="#1c1c1c"/>
<rect x="121.5" y="155.2" width="1.5" height="2.5" fill="#1c1c1c"/>
<rect x="184.7" y="87.7" width="1.5" height="2.5" fill="#1c1c1c"/>
<rect x="174.4" y="83.8" width="1.5" height="2.5" fill="#1c1c1c"/>
<rect x="102.5" y="183.8" width="1.5" height="2.5" fill="#1c1c1c"/>
<rect x="150.2" y="98.0" width="1.5" height="2.5" fill="#1c1c1c"/>
<rect x="156.3" y="83.6" width="1.5" height="2.5" fill="#1c1c1c"/>
<rect x="166.1" y="95.7" width="1.5" height="2.5" fill="#1c1c1c"/>
<rect x="147.6" y="96.5" width="1.5" height="2.5" fill="#1c1c1c"/>
<rect x="96.5" y="179.3" width="1.5" height="2.5" fill="#1c1c1c"/>
<rect x="172.8" y="81.8" width="1.5" height="2.5" fill="#1c1c1c"/>
<rect x="206.2" y="44.8" width="1.5" height="2.5" fill="#1c1c1c"/>
<rect x="119.1" y="125.1" width="1.5" height="2.5" fill="#1c1c1c"/>
<rect x="94.0" y="134.6" width="1.5" height="2.5" fill="#1c1c1c"/>
<rect x="98.2" y="176.8" width="1.5" height="2.5" fill="#1c1c1c"/>
<rect x="85.7" y="159.2" width="1.5" height="2.5" fill="#1c1c1c"/>
<rect x="97.6" y="140.3" width="1.5" height="2.5" fill="#1c1c1c"/>
<rect x="94.0" y="148.8" width="1.5" height="2.5" fill="#1c1c1c"/>
<rect x="121.5" y="157.1" width="1.5" height="2.5" fill="#1c1c1c"/>
<rect x="106.9" y="150.9" width="1.5" height="2.5" fill="#1c1c1c"/>
<rect x="132.7" y="123.7" width="1.5" height="2.5" fill="#1c1c1c"/>
<rect x="178.2" y="72.4" width="1.5" height="2.5" fill="#1c1c1c"/>
<rect x="157.0" y="92.6" width="1.5" height="2.5" fill="#1c1c1c"/>
<rect x="91.5" y="165.2" width="1.5" height="2.5" fill="#1c1c1c"/>
<rect x="138.3" y="122.8" width="1.5" height="2.5" fill="#1c1c1c"/>
<rect x="163.7" y="84.3" width="1.5" height="2.5" fill="#1c1c1c"/>
<rect x="107.5" y="142.9" width="1.5" height="2.5" fill="#1c1c1c"/>
<rect x="189.1" y="68.7" width="1.5" height="2.5" fill="#1c1c1c"/>
<rect x="139.3" y="127.5" width="1.5" height="2.5" fill="#1c1c1c"/>
<rect x="174.2" y="73.9" width="1.5" height="2.5" fill="#1c1c1c"/>
<rect x="96.9" y="140.0" width="1.5" height="2.5" fill="#1c1c1c"/>
<rect x="148.3" y="120.8" width="1.5" height="2.5" fill="#1c1c1c"/>
<rect x="114.8" y="139.9" width="1.5" height="2.5" fill="#1c1c1c"/>
<rect x="157.2" y="111.8" width="1.5" height="2.5" fill="#1c1c1c"/>
<rect x="94.0" y="174.4" width="1.5" height="2.5" fill="#1c1c1c"/>
<rect x="96.4" y="185.3" width="1.5" height="2.5" fill="#1c1c1c"/>
<rect x="68.2" y="184.7" width="1.5" height="2.5" fill="#1c1c1c"/>
<rect x="193.9" y="52.7" width="1.5" height="2.5" fill="#1c1c1c"/>
<rect x="107.6" y="157.3" width="1.5" height="2.5" fill="#1c1c1c"/>
<rect x="112.5" y="152.4" width="1.5" height="2.5" fill="#1c1c1c"/>
<rect x="115.4" y="136.5" width="1.5" height="2.5" fill="#1c1c1c"/>
<rect x="108.2" y="140.8" width="1.5" height="2.5" fill="#1c1c1c"/>
<rect x="145.8" y="93.8" width="1.5" height="2.5" fill="#1c1c1c"/>
<rect x="106.4" y="157.7" width="1.5" height="2.5" fill="#1c1c1c"/>
<rect x="124.5" y="154.4" width="1.5" height="2.5" fill="#1c1c1c"/>
<rect x="160.6" y="83.2" width="1.5" height="2.5" fill="#1c1c1c"/>
<rect x="110.2" y="119.2" width="1.5" height="2.5" fill="#1c1c1c"/>
<rect x="155.8" y="84.3" width="1.5" height="2.5" fill="#1c1c1c"/>
<rect x="78.1" y="161.6" width="1.5" height="2.5" fill="#1c1c1c"/>
<rect x="149.8" y="106.6" width="1.5" height="2.5" fill="#1c1c1c"/>
<rect x="93.7" y="144.8" width="1.5" height="2.5" fill="#1c1c1c"/>
<rect x="114.7" y="158.9" width="1.5" height="2.5" fill="#1c1c1c"/>
<rect x="115.3" y="125.9" width="1.5" height="2.5" fill="#1c1c1c"/>
<rect x="177.2" y="65.9" width="1.5" height="2.5" fill="#1c1c1c"/>
<rect x="190.3" y="68.7" width="1.5" height="2.5" fill="#1c1c1c"/>
<rect x="122.8" y="109.5" width="1.5" height="2.5" fill="#1c1c1c"/>
<rect x="85.2" y="162.8" width="1.5" height="2.5" fill="#1c1c1c"/>
<rect x="88.1" y="167.2" width="1.5" height="2.5" fill="#1c1c1c"/>
<rect x="112.9" y="146.2" width="1.5" height="2.5" fill="#1c1c1c"/>
<rect x="140.1" y="99.6" width="1.5" height="2.5" fill="#1c1c1c"/>
<rect x="94.3" y="158.6" width="1.5" height="2.5" fill="#1c1c1c"/>
<rect x="107.6" y="134.3" width="1.5" height="2.5" fill="#1c1c1c"/>
<rect x="198.6" y="55.4" width="1.5" height="2.5" fill="#1c1c1c"/>
<rect x="71.1" y="174.8" width="1.5" height="2.5" fill="#1c1c1c"/>
<rect x="97.9" y="184.8" width="1.5" height="2.5" fill="#1c1c1c"/>
<rect x="115.3" y="150.1" width="1.5" height="2.5" fill="#1c1c1c"/>
<rect x="109.5" y="161.2" width="1.5" height="2.5" fill="#1c1c1c"/>
<rect x="168.5" y="87.4" width="1.5" height="2.5" fill="#1c1c1c"/>
<rect x="138.9" y="101.8" width="1.5" height="2.5" fill="#1c1c1c"/>
<rect x="92.6" y="144.0" width="1.5" height="2.5" fill="#1c1c1c"/>
<rect x="81.2" y="161.1" width="1.5" height="2.5" fill="#1c1c1c"/>
<rect x="120.7" y="122.0" width="1.5" height="2.5" fill="#1c1c1c"/>
<rect x="151.0" y="100.3" width="1.5" height="2.5" fill="#1c1c1c"/>
<rect x="119.3" y="134.4" width="1.5" height="2.5" fill="#1c1c1c"/>
<rect x="96.4" y="172.5" width="1.5" height="2.5" fill="#1c1c1c"/>
<rect x="165.1" y="89.7" width="1.5" height="2.5" fill="#1c1c1c"/>
<rect x="85.9" y="156.9" width="1.5" height="2.5" fill="#1c1c1c"/>
<rect x="181.4" y="91.6" width="1.5" height="2.5" fill="#1c1c1c"/>
<rect x="100.3" y="183.4" width="1.5" height="2.5" fill="#1c1c1c"/>
<rect x="101.5" y="173.4" width="1.5" height="2.5" fill="#1c1c1c"/>
<rect x="105.1" y="167.6" width="1.5" height="2.5" fill="#1c1c1c"/>
<rect x="84.1" y="176.8" width="1.5" height="2.5" fill="#1c1c1c"/>
<rect x="175.5" y="97.6" width="1.5" height="2.5" fill="#1c1c1c"/>
<rect x="140.9" y="93.4" width="1.5" height="2.5" fill="#1c1c1c"/>
<rect x="133.0" y="138.6" width="1.5" height="2.5" fill="#1c1c1c"/>
<rect x="111.0" y="174.1" width="1.5" height="2.5" fill="#1c1c1c"/>
<rect x="115.3" y="148.4" width="1.5" height="2.5" fill="#1c1c1c"/>
<rect x="82.7" y="184.5" width="1.5" height="2.5" fill="#1c1c1c"/>
<rect x="98.2" y="156.8" width="1.5" height="2.5" fill="#1c1c1c"/>
<rect x="71.1" y="153.2" width="1.5" height="2.5" fill="#1c1c1c"/>
<rect x="166.1" y="81.1" width="1.5" height="2.5" fill="#1c1c1c"/>
<rect x="90.9" y="167.7" width="1.5" height="2.5" fill="#1c1c1c"/>
<rect x="83.1" y="186.4" width="1.5" height="2.5" fill="#1c1c1c"/>
<rect x="81.0" y="176.0" width="1.5" height="2.5" fill="#1c1c1c"/>
<rect x="93.2" y="172.5" width="1.5" height="2.5" fill="#1c1c1c"/>
<rect x="108.8" y="156.6" width="1.5" height="2.5" fill="#1c1c1c"/>
<rect x="97.5" y="173.2" width="1.5" height="2.5" fill="#1c1c1c"/>
<rect x="97.9" y="178.9" width="1.5" height="2.5" fill="#1c1c1c"/>
<rect x="82.4" y="179.8" width="1.5" height="2.5" fill="#1c1c1c"/>
<rect x="197.1" y="62.5" width="1.5" height="2.5" fill="#1c1c1c"/>
<rect x="75.7" y="172.8" width="1.5" height="2.5" fill="#1c1c1c"/>
<rect x="94.8" y="185.3" width="1.5" height="2.5" fill="#1c1c1c"/>
<rect x="96.6" y="134.3" width="1.5" height="2.5" fill="#1c1c1c"/>
<rect x="115.9" y="136.8" width="1.5" height="2.5" fill="#1c1c1c"/>
<rect x="69.3" y="164.1" width="1.5" height="2.5" fill="#1c1c1c"/>
<rect x="86.4" y="166.6" width="1.5" height="2.5" fill="#1c1c1c"/>
<rect x="108.2" y="156.9" width="1.5" height="2.5" fill="#1c1c1c"/>
<rect x="118.0" y="141.7" width="1.5" height="2.5" fill="#1c1c1c"/>
<rect x="119.2" y="124.0" width="1.5" height="2.5" fill="#1c1c1c"/>
<rect x="84.4" y="154.4" width="1.5" height="2.5" fill="#1c1c1c"/>
<rect x="124.5" y="134.6" width="1.5" height="2.5" fill="#1c1c1c"/>
<rect x="110.0" y="168.8" width="1.5" height="2.5" fill="#1c1c1c"/>
<rect x="99.9" y="147.4" width="1.5" height="2.5" fill="#1c1c1c"/>
<rect x="99.5" y="181.3" width="1.5" height="2.5" fill="#1c1c1c"/>
<rect x="159.2" y="85.9" width="1.5" height="2.5" fill="#1c1c1c"/>
<rect x="125.3" y="125.1" width="1.5" height="2.5" fill="#1c1c1c"/>
<rect x="143.8" y="107.5" width="1.5" height="2.5" fill="#1c1c1c"/>
<rect x="108.2" y="170.2" width="1.5" height="2.5" fill="#1c1c1c"/>
<rect x="91.8" y="185.8" width="1.5" height="2.5" fill="#1c1c1c"/>
<rect x="96.9" y="177.9" width="1.5" height="2.5" fill="#1c1c1c"/>
<rect x="189.3" y="56.6" width="1.5" height="2.5" fill="#1c1c1c"/>
<rect x="116.6" y="143.4" width="1.5" height="2.5" fill="#1c1c1c"/>
<rect x="138.7" y="100.3" width="1.5" height="2.5" fill="#1c1c1c"/>
<rect x="89.0" y="167.5" width="1.5" height="2.5" fill="#1c1c1c"/>
<rect x="74.8" y="162.3" width="1.5" height="2.5" fill="#1c1c1c"/>
<rect x="87.7" y="174.5" width="1.5" height="2.5" fill="#1c1c1c"/>
<rect x="151.3" y="96.5" width="1.5" height="2.5" fill="#1c1c1c"/>
<rect x="80.0" y="183.6" width="1.5" height="2.5" fill="#1c1c1c"/>
<rect x="84.8" y="175.6" width="1.5" height="2.5" fill="#1c1c1c"/>
<rect x="86.4" y="183.3" width="1.5" height="2.5" fill="#1c1c1c"/>
<rect x="96.2" y="179.0" width="1.5" height="2.5" fill="#1c1c1c"/>
<rect x="118.5" y="123.5" width="1.5" height="2.5" fill="#1c1c1c"/>
<rect x="128.5" y="117.2" width="1.5" height="2.5" fill="#1c1c1c"/>
<rect x="119.2" y="131.5" width="1.5" height="2.5" fill="#1c1c1c"/>
<rect x="195.8" y="51.3" width="1.5" height="2.5" fill="#1c1c1c"/>
<rect x="117.4" y="165.3" width="1.5" height="2.5" fill="#1c1c1c"/>
<rect x="84.2" y="153.5" width="1.5" height="2.5" fill="#1c1c1c"/>
<rect x="206.8" y="48.1" width="1.5" height="2.5" fill="#1c1c1c"/>
<rect x="91.8" y="154.1" width="1.5" height="2.5" fill="#1c1c1c"/>
<rect x="181.2" y="83.6" width="1.5" height="2.5" fill="#1c1c1c"/>
<rect x="102.5" y="156.6" width="1.5" height="2.5" fill="#1c1c1c"/>
<rect x="161.0" y="86.9" width="1.5" height="2.5" fill="#1c1c1c"/>
<rect x="72.1" y="180.0" width="1.5" height="2.5" fill="#1c1c1c"/>
<rect x="76.0" y="173.2" width="1.5" height="2.5" fill="#1c1c1c"/>
<rect x="167.8" y="83.4" width="1.5" height="2.5" fill="#1c1c1c"/>
<rect x="99.3" y="154.0" width="1.5" height="2.5" fill="#1c1c1c"/>
<rect x="155.5" y="98.9" width="1.5" height="2.5" fill="#1c1c1c"/>
<rect x="190.1" y="68.8" width="1.5" height="2.5" fill="#1c1c1c"/>
<rect x="121.6" y="109.0" width="1.5" height="2.5" fill="#1c1c1c"/>
<rect x="113.5" y="165.0" width="1.5" height="2.5" fill="#1c1c1c"/>
<rect x="144.8" y="90.4" width="1.5" height="2.5" fill="#1c1c1c"/>
<rect x="179.1" y="74.9" width="1.5" height="2.5" fill="#1c1c1c"/>
<rect x="168.9" y="73.8" width="1.5" height="2.5" fill="#1c1c1c"/>
<rect x="185.1" y="66.8" width="1.5" height="2.5" fill="#1c1c1c"/>
<rect x="95.9" y="175.8" width="1.5" height="2.5" fill="#1c1c1c"/>
<rect x="112.2" y="128.9" width="1.5" height="2.5" fill="#1c1c1c"/>
<rect x="110.8" y="148.4" width="1.5" height="2.5" fill="#1c1c1c"/>
<rect x="181.0" y="68.2" width="1.5" height="2.5" fill="#1c1c1c"/>
<rect x="111.6" y="156.9" width="1.5" height="2.5" fill="#1c1c1c"/>
<rect x="118.4" y="147.5" width="1.5" height="2.5" fill="#1c1c1c"/>
<rect x="68.3" y="168.6" width="1.5" height="2.5" fill="#1c1c1c"/>
<rect x="126.3" y="138.4" width="1.5" height="2.5" fill="#1c1c1c"/>
<rect x="81.5" y="155.0" width="1.5" height="2.5" fill="#1c1c1c"/>
<rect x="76.5" y="168.4" width="1.5" height="2.5" fill="#1c1c1c"/>
<rect x="94.1" y="170.9" width="1.5" height="2.5" fill="#1c1c1c"/>
<rect x="101.2" y="145.8" width="1.5" height="2.5" fill="#1c1c1c"/>
<rect x="108.0" y="151.2" width="1.5" height="2.5" fill="#1c1c1c"/>
<rect x="90.5" y="179.6" width="1.5" height="2.5" fill="#1c1c1c"/>
<rect x="87.7" y="183.3" width="1.5" height="2.5" fill="#1c1c1c"/>
<rect x="183.0" y="83.9" width="1.5" height="2.5" fill="#1c1c1c"/>
<rect x="120.8" y="148.3" width="1.5" height="2.5" fill="#1c1c1c"/>
<rect x="137.0" y="134.6" width="1.5" height="2.5" fill="#1c1c1c"/>
<rect x="88.4" y="182.5" width="1.5" height="2.5" fill="#1c1c1c"/>
<rect x="150.4" y="103.7" width="1.5" height="2.5" fill="#1c1c1c"/>
<rect x="101.3" y="158.4" width="1.5" height="2.5" fill="#1c1c1c"/>
<rect x="89.3" y="182.9" width="1.5" height="2.5" fill="#1c1c1c"/>
<rect x="96.6" y="166.3" width="1.5" height="2.5" fill="#1c1c1c"/>
<rect x="104.9" y="164.5" width="1.5" height="2.5" fill="#1c1c1c"/>
<rect x="121.1" y="118.3" width="1.5" height="2.5" fill="#1c1c1c"/>
<rect x="98.0" y="129.0" width="1.5" height="2.5" fill="#1c1c1c"/>
<rect x="170.1" y="75.4" width="1.5" height="2.5" fill="#1c1c1c"/>
<rect x="117.6" y="133.1" width="1.5" height="2.5" fill="#1c1c1c"/>
<rect x="97.2" y="165.0" width="1.5" height="2.5" fill="#1c1c1c"/>
<rect x="85.1" y="165.3" width="1.5" height="2.5" fill="#1c1c1c"/>
<rect x="87.7" y="149.7" width="1.5" height="2.5" fill="#1c1c1c"/>
<rect x="193.5" y="58.5" width="1.5" height="2.5" fill="#1c1c1c"/>
<rect x="160.1" y="95.4" width="1.5" height="2.5" fill="#1c1c1c"/>
<rect x="115.8" y="166.0" width="1.5" height="2.5" fill="#1c1c1c"/>
<rect x="114.2" y="155.5" width="1.5" height="2.5" fill="#1c1c1c"/>
<rect x="215.2" y="56.9" width="1.5" height="2.5" fill="#1c1c1c"/>
<rect x="198.0" y="68.1" width="1.5" height="2.5" fill="#1c1c1c"/>
<rect x="124.4" y="136.0" width="1.5" height="2.5" fill="#1c1c1c"/>
<rect x="121.5" y="141.3" width="1.5" height="2.5" fill="#1c1c1c"/>
<rect x="154.8" y="95.5" width="1.5" height="2.5" fill="#1c1c1c"/>
<rect x="196.2" y="50.7" width="1.5" height="2.5" fill="#1c1c1c"/>
<rect x="68.1" y="179.8" width="1.5" height="2.5" fill="#1c1c1c"/>
<rect x="133.6" y="131.9" width="1.5" height="2.5" fill="#1c1c1c"/>
<rect x="118.7" y="131.8" width="1.5" height="2.5" fill="#1c1c1c"/>
<rect x="164.6" y="76.5" width="1.5" height="2.5" fill="#1c1c1c"/>
<rect x="76.4" y="164.6" width="1.5" height="2.5" fill="#1c1c1c"/>
<rect x="136.0" y="131.8" width="1.5" height="2.5" fill="#1c1c1c"/>
<rect x="148.0" y="100.8" width="1.5" height="2.5" fill="#1c1c1c"/>
<rect x="105.1" y="163.9" width="1.5" height="2.5" fill="#1c1c1c"/>
<rect x="168.1" y="84.7" width="1.5" height="2.5" fill="#1c1c1c"/>
<rect x="119.5" y="159.2" width="1.5" height="2.5" fill="#1c1c1c"/>
<rect x="203.4" y="48.4" width="1.5" height="2.5" fill="#1c1c1c"/>
<rect x="101.3" y="128.8" width="1.5" height="2.5" fill="#1c1c1c"/>
<rect x="89.3" y="157.6" width="1.5" height="2.5" fill="#1c1c1c"/>
<rect x="71.2" y="162.0" width="1.5" height="2.5" fill="#1c1c1c"/>
<rect x="83.5" y="182.5" width="1.5" height="2.5" fill="#1c1c1c"/>
<rect x="81.7" y="167.2" width="1.5" height="2.5" fill="#1c1c1c"/>
<rect x="146.2" y="97.4" width="1.5" height="2.5" fill="#1c1c1c"/>
<rect x="122.2" y="126.1" width="1.5" height="2.5" fill="#1c1c1c"/>
<rect x="139.9" y="101.2" width="1.5" height="2.5" fill="#1c1c1c"/>
<rect x="89.0" y="184.5" width="1.5" height="2.5" fill="#1c1c1c"/>
<rect x="193.3" y="67.0" width="1.5" height="2.5" fill="#1c1c1c"/>
<rect x="76.0" y="186.4" width="1.5" height="2.5" fill="#1c1c1c"/>
<rect x="92.3" y="156.2" width="1.5" height="2.5" fill="#1c1c1c"/>
<rect x="112.7" y="137.6" width="1.5" height="2.5" fill="#1c1c1c"/>
<rect x="146.7" y="107.8" width="1.5" height="2.5" fill="#1c1c1c"/>
<rect x="78.6" y="169.0" width="1.5" height="2.5" fill="#1c1c1c"/>
<rect x="115.3" y="166.5" width="1.5" height="2.5" fill="#1c1c1c"/>
<rect x="204.9" y="56.9" width="1.5" height="2.5" fill="#1c1c1c"/>
<rect x="101.3" y="142.1" width="1.5" height="2.5" fill="#1c1c1c"/>
<rect x="109.4" y="177.5" width="1.5" height="2.5" fill="#1c1c1c"/>
<rect x="90.8" y="149.7" width="1.5" height="2.5" fill="#1c1c1c"/>
<rect x="69.7" y="180.8" width="1.5" height="2.5" fill="#1c1c1c"/>
<rect x="95.5" y="142.4" width="1.5" height="2.5" fill="#1c1c1c"/>
<rect x="128.3" y="117.8" width="1.5" height="2.5" fill="#1c1c1c"/>
<rect x="115.9" y="165.6" width="1.5" height="2.5" fill="#1c1c1c"/>
<rect x="150.7" y="113.1" width="1.5" height="2.5" fill="#1c1c1c"/>
<rect x="97.3" y="184.1" width="1.5" height="2.5" fill="#1c1c1c"/>
<rect x="100.2" y="158.8" width="1.5" height="2.5" fill="#1c1c1c"/>
<rect x="88.2" y="171.3" width="1.5" height="2.5" fill="#1c1c1c"/>
<rect x="153.7" y="102.8" width="1.5" height="2.5" fill="#1c1c1c"/>
<rect x="132.2" y="112.0" width="1.5" height="2.5" fill="#1c1c1c"/>
<rect x="122.8" y="152.8" width="1.5" height="2.5" fill="#1c1c1c"/>
<rect x="145.8" y="123.0" width="1.5" height="2.5" fill="#1c1c1c"/>
<rect x="102.8" y="162.5" width="1.5" height="2.5" fill="#1c1c1c"/>
<rect x="88.2" y="159.1" width="1.5" height="2.5" fill="#1c1c1c"/>
<rect x="85.0" y="186.4" width="1.5" height="2.5" fill="#1c1c1c"/>
<rect x="142.2" y="94.2" width="1.5" height="2.5" fill="#1c1c1c"/>
<rect x="96.6" y="154.5" width="1.5" height="2.5" fill="#1c1c1c"/>
<rect x="126.6" y="148.4" width="1.5" height="2.5" fill="#1c1c1c"/>
<rect x="109.5" y="128.9" width="1.5" height="2.5" fill="#1c1c1c"/>
<rect x="157.5" y="114.3" width="1.5" height="2.5" fill="#1c1c1c"/>
<rect x="97.4" y="185.1" width="1.5" height="2.5" fill="#1c1c1c"/>
<rect x="112.4" y="172.9" width="1.5" height="2.5" fill="#1c1c1c"/>
<rect x="104.4" y="172.5" width="1.5" height="2.5" fill="#1c1c1c"/>
<rect x="108.1" y="145.8" width="1.5" height="2.5" fill="#1c1c1c"/>
<rect x="120.5" y="122.6" width="1.5" height="2.5" fill="#1c1c1c"/>
<rect x="90.1" y="179.2" width="1.5" height="2.5" fill="#1c1c1c"/>
<rect x="202.9" y="60.7" width="1.5" height="2.5" fill="#1c1c1c"/>
<rect x="198.4" y="60.2" width="1.5" height="2.5" fill="#1c1c1c"/>
<rect x="99.0" y="159.5" width="1.5" height="2.5" fill="#1c1c1c"/>
<rect x="189.7" y="62.2" width="1.5" height="2.5" fill="#1c1c1c"/>
<rect x="125.9" y="118.0" width="1.5" height="2.5" fill="#1c1c1c"/>
<rect x="94.2" y="175.8" width="1.5" height="2.5" fill="#1c1c1c"/>
<rect x="96.3" y="174.9" width="1.5" height="2.5" fill="#1c1c1c"/>
<rect x="95.4" y="135.2" width="1.5" height="2.5" fill="#1c1c1c"/>
<rect x="101.7" y="155.8" width="1.5" height="2.5" fill="#1c1c1c"/>
<rect x="106.5" y="170.6" width="1.5" height="2.5" fill="#1c1c1c"/>
<rect x="143.9" y="110.6" width="1.5" height="2.5" fill="#1c1c1c"/>
<rect x="176.8" y="84.5" width="1.5" height="2.5" fill="#1c1c1c"/>
<rect x="169.1" y="91.6" width="1.5" height="2.5" fill="#1c1c1c"/>
<rect x="73.7" y="171.6" width="1.5" height="2.5" fill="#1c1c1c"/>
<rect x="199.9" y="47.4" width="1.5" height="2.5" fill="#1c1c1c"/>
<rect x="114.6" y="139.5" width="1.5" height="2.5" fill="#1c1c1c"/>
<rect x="105.2" y="182.2" width="1.5" height="2.5" fill="#1c1c1c"/>
<rect x="84.1" y="168.1" width="1.5" height="2.5" fill="#1c1c1c"/>
<rect x="135.1" y="109.1" width="1.5" height="2.5" fill="#1c1c1c"/>
<rect x="82.1" y="183.9" width="1.5" height="2.5" fill="#1c1c1c"/>
<rect x="163.4" y="75.5" width="1.5" height="2.5" fill="#1c1c1c"/>
<rect x="117.0" y="135.3" width="1.5" height="2.5" fill="#1c1c1c"/>
<rect x="166.3" y="106.7" width="1.5" height="2.5" fill="#1c1c1c"/>
<rect x="107.1" y="180.4" width="1.5" height="2.5" fill="#1c1c1c"/>
<rect x="82.9" y="183.4" width="1.5" height="2.5" fill="#1c1c1c"/>
<rect x="106.6" y="142.6" width="1.5" height="2.5" fill="#1c1c1c"/>
<rect x="79.1" y="158.6" width="1.5" height="2.5" fill="#1c1c1c"/>
<rect x="121.2" y="133.8" width="1.5" height="2.5" fill="#1c1c1c"/>
<rect x="117.3" y="136.7" width="1.5" height="2.5" fill="#1c1c1c"/>
<rect x="151.8" y="100.8" width="1.5" height="2.5" fill="#1c1c1c"/>
<rect x="86.6" y="158.8" width="1.5" height="2.5" fill="#1c1c1c"/>
<rect x="103.5" y="126.5" width="1.5" height="2.5" fill="#1c1c1c"/>
<rect x="71.6" y="149.7" width="1.5" height="2.5" fill="#1c1c1c"/>
<rect x="186.2" y="59.4" width="1.5" height="2.5" fill="#1c1c1c"/>
<rect x="82.7" y="144.8" width="1.5" height="2.5" fill="#1c1c1c"/>
<rect x="210.5" y="42.8" width="1.5" height="2.5" fill="#1c1c1c"/>
<rect x="112.8" y="150.7" width="1.5" height="2.5" fill="#1c1c1c"/>
<rect x="104.2" y="141.5" width="1.5" height="2.5" fill="#1c1c1c"/>
<rect x="195.9" y="59.1" width="1.5" height="2.5" fill="#1c1c1c"/>
<rect x="195.4" y="51.8" width="1.5" height="2.5" fill="#1c1c1c"/>
<rect x="83.7" y="158.7" width="1.5" height="2.5" fill="#1c1c1c"/>
<rect x="84.8" y="163.7" width="1.5" height="2.5" fill="#1c1c1c"/>
<rect x="102.4" y="181.4" width="1.5" height="2.5" fill="#1c1c1c"/>
<rect x="149.8" y="107.6" width="1.5" height="2.5" fill="#1c1c1c"/>
<rect x="91.9" y="176.5" width="1.5" height="2.5" fill="#1c1c1c"/>
<rect x="124.1" y="132.3" width="1.5" height="2.5" fill="#1c1c1c"/>
<rect x="199.5" y="52.9" width="1.5" height="2.5" fill="#1c1c1c"/>
<rect x="179.9" y="86.0" width="1.5" height="2.5" fill="#1c1c1c"/>
<rect x="88.3" y="183.6" width="1.5" height="2.5" fill="#1c1c1c"/>
<rect x="105.1" y="145.2" width="1.5" height="2.5" fill="#1c1c1c"/>
<rect x="85.2" y="159.8" width="1.5" height="2.5" fill="#1c1c1c"/>
<rect x="150.4" y="109.4" width="1.5" height="2.5" fill="#1c1c1c"/>
<rect x="108.9" y="178.5" width="1.5" height="2.5" fill="#1c1c1c"/>
<rect x="156.1" y="82.0" width="1.5" height="2.5" fill="#1c1c1c"/>
<rect x="127.4" y="120.6" width="1.5" height="2.5" fill="#1c1c1c"/>
<rect x="79.1" y="155.2" width="1.5" height="2.5" fill="#1c1c1c"/>
<rect x="156.0" y="81.7" width="1.5" height="2.5" fill="#1c1c1c"/>
<rect x="110.7" y="168.4" width="1.5" height="2.5" fill="#1c1c1c"/>
<rect x="100.1" y="152.6" width="1.5" height="2.5" fill="#1c1c1c"/>
<rect x="177.4" y="64.4" width="1.5" height="2.5" fill="#1c1c1c"/>
<rect x="81.7" y="142.5" width="1.5" height="2.5" fill="#1c1c1c"/>
<rect x="151.5" y="93.6" width="1.5" height="2.5" fill="#1c1c1c"/>
<rect x="195.9" y="62.2" width="1.5" height="2.5" fill="#1c1c1c"/>
<rect x="95.7" y="170.4" width="1.5" height="2.5" fill="#1c1c1c"/>
<rect x="86.2" y="182.2" width="1.5" height="2.5" fill="#1c1c1c"/>
<rect x="132.1" y="130.4" width="1.5" height="2.5" fill="#1c1c1c"/>
<rect x="167.9" y="73.6" width="1.5" height="2.5" fill="#1c1c1c"/>
<rect x="144.4" y="129.1" width="1.5" height="2.5" fill="#1c1c1c"/>
<rect x="190.8" y="56.7" width="1.5" height="2.5" fill="#1c1c1c"/>
<rect x="136.0" y="105.6" width="1.5" height="2.5" fill="#1c1c1c"/>
<rect x="89.4" y="163.0" width="1.5" height="2.5" fill="#1c1c1c"/>
<rect x="101.5" y="176.4" width="1.5" height="2.5" fill="#1c1c1c"/>
<rect x="80.3" y="186.0" width="1.5" height="2.5" fill="#1c1c1c"/>
<rect x="149.6" y="112.5" width="1.5" height="2.5" fill="#1c1c1c"/>
<rect x="115.7" y="144.3" width="1.5" height="2.5" fill="#1c1c1c"/>
<rect x="158.7" y="90.4" width="1.5" height="2.5" fill="#1c1c1c"/>
<rect x="186.6" y="67.6" width="1.5" height="2.5" fill="#1c1c1c"/>
<rect x="102.0" y="128.6" width="1.5" height="2.5" fill="#1c1c1c"/>
<rect x="153.0" y="99.2" width="1.5" height="2.5" fill="#1c1c1c"/>
<rect x="186.6" y="72.3" width="1.5" height="2.5" fill="#1c1c1c"/>
<rect x="111.9" y="128.8" width="1.5" height="2.5" fill="#1c1c1c"/>
<rect x="185.2" y="88.2" width="1.5" height="2.5" fill="#1c1c1c"/>
<rect x="133.1" y="120.7" width="1.5" height="2.5" fill="#1c1c1c"/>
<rect x="162.0" y="79.7" width="1.5" height="2.5" fill="#1c1c1c"/>
<rect x="125.0" y="122.1" width="1.5" height="2.5" fill="#1c1c1c"/>
<rect x="76.9" y="167.0" width="1.5" height="2.5" fill="#1c1c1c"/>
<rect x="109.6" y="136.5" width="1.5" height="2.5" fill="#1c1c1c"/>
<rect x="121.1" y="111.8" width="1.5" height="2.5" fill="#1c1c1c"/>
<rect x="89.1" y="156.7" width="1.5" height="2.5" fill="#1c1c1c"/>
<rect x="101.9" y="158.8" width="1.5" height="2.5" fill="#1c1c1c"/>
<rect x="110.4" y="131.0" width="1.5" height="2.5" fill="#1c1c1c"/>
<rect x="140.1" y="119.0" width="1.5" height="2.5" fill="#1c1c1c"/>
<rect x="96.5" y="138.2" width="1.5" height="2.5" fill="#1c1c1c"/>
<rect x="98.7" y="163.4" width="1.5" height="2.5" fill="#1c1c1c"/>
<rect x="142.3" y="94.4" width="1.5" height="2.5" fill="#1c1c1c"/>
<rect x="87.9" y="175.2" width="1.5" height="2.5" fill="#1c1c1c"/>
<rect x="116.9" y="142.7" width="1.5" height="2.5" fill="#1c1c1c"/>
<rect x="110.5" y="173.2" width="1.5" height="2.5" fill="#1c1c1c"/>
<rect x="81.2" y="168.8" width="1.5" height="2.5" fill="#1c1c1c"/>
<rect x="110.8" y="166.0" width="1.5" height="2.5" fill="#1c1c1c"/>
<rect x="71.9" y="177.3" width="1.5" height="2.5" fill="#1c1c1c"/>
<rect x="105.6" y="151.2" width="1.5" height="2.5" fill="#1c1c1c"/>
<rect x="110.3" y="142.3" width="1.5" height="2.5" fill="#1c1c1c"/>
<rect x="111.5" y="174.9" width="1.5" height="2.5" fill="#1c1c1c"/>
<rect x="151.5" y="119.3" width="1.5" height="2.5" fill="#1c1c1c"/>
<rect x="89.7" y="158.8" width="1.5" height="2.5" fill="#1c1c1c"/>
<rect x="168.3" y="84.9" width="1.5" height="2.5" fill="#1c1c1c"/>
<rect x="181.4" y="88.1" width="1.5" height="2.5" fill="#1c1c1c"/>
<rect x="174.3" y="75.7" width="1.5" height="2.5" fill="#1c1c1c"/>
<rect x="103.6" y="132.8" width="1.5" height="2.5" fill="#1c1c1c"/>
<rect x="93.6" y="156.3" width="1.5" height="2.5" fill="#1c1c1c"/>
<rect x="199.6" y="55.3" width="1.5" height="2.5" fill="#1c1c1c"/>
<rect x="124.4" y="138.2" width="1.5" height="2.5" fill="#1c1c1c"/>
<rect x="80.6" y="158.5" width="1.5" height="2.5" fill="#1c1c1c"/>
<rect x="126.7" y="121.6" width="1.5" height="2.5" fill="#1c1c1c"/>
<rect x="109.6" y="161.1" width="1.5" height="2.5" fill="#1c1c1c"/>
<rect x="105.8" y="126.1" width="1.5" height="2.5" fill="#1c1c1c"/>
<rect x="143.1" y="117.4" width="1.5" height="2.5" fill="#1c1c1c"/>
<rect x="106.3" y="184.4" width="1.5" height="2.5" fill="#1c1c1c"/>
<rect x="150.3" y="91.3" width="1.5" height="2.5" fill="#1c1c1c"/>
<rect x="85.4" y="158.6" width="1.5" height="2.5" fill="#1c1c1c"/>
<rect x="132.3" y="108.7" width="1.5" height="2.5" fill="#1c1c1c"/>
<rect x="83.2" y="140.2" width="1.5" height="2.5" fill="#1c1c1c"/>
<rect x="215.1" y="52.7" width="1.5" height="2.5" fill="#1c1c1c"/>
<rect x="74.8" y="180.9" width="1.5" height="2.5" fill="#1c1c1c"/>
<rect x="98.4" y="160.4" width="1.5" height="2.5" fill="#1c1c1c"/>
<rect x="114.8" y="149.9" width="1.5" height="2.5" fill="#1c1c1c"/>
<rect x="165.7" y="82.2" width="1.5" height="2.5" fill="#1c1c1c"/>
<rect x="155.9" y="92.3" width="1.5" height="2.5" fill="#1c1c1c"/>
<rect x="182.5" y="63.2" width="1.5" height="2.5" fill="#1c1c1c"/>
<rect x="69.1" y="153.5" width="1.5" height="2.5" fill="#1c1c1c"/>
<rect x="85.5" y="181.3" width="1.5" height="2.5" fill="#1c1c1c"/>
<rect x="84.4" y="172.1" width="1.5" height="2.5" fill="#1c1c1c"/>
<rect x="106.7" y="126.5" width="1.5" height="2.5" fill="#1c1c1c"/>
<rect x="110.0" y="134.2" width="1.5" height="2.5" fill="#1c1c1c"/>
<rect x="100.0" y="156.4" width="1.5" height="2.5" fill="#1c1c1c"/>
<rect x="68.1" y="186.5" width="1.5" height="2.5" fill="#1c1c1c"/>
<rect x="173.5" y="77.2" width="1.5" height="2.5" fill="#1c1c1c"/>
<rect x="197.0" y="56.3" width="1.5" height="2.5" fill="#1c1c1c"/>
<rect x="185.2" y="75.3" width="1.5" height="2.5" fill="#1c1c1c"/>
<rect x="106.3" y="154.9" width="1.5" height="2.5" fill="#1c1c1c"/>
<rect x="104.9" y="173.3" width="1.5" height="2.5" fill="#1c1c1c"/>
<rect x="208.7" y="45.1" width="1.5" height="2.5" fill="#1c1c1c"/>
<rect x="95.4" y="134.2" width="1.5" height="2.5" fill="#1c1c1c"/>
<rect x="118.3" y="125.9" width="1.5" height="2.5" fill="#1c1c1c"/>
<rect x="83.3" y="168.6" width="1.5" height="2.5" fill="#1c1c1c"/>
<rect x="97.0" y="155.0" width="1.5" height="2.5" fill="#1c1c1c"/>
<rect x="109.0" y="148.2" width="1.5" height="2.5" fill="#1c1c1c"/>
<rect x="146.9" y="100.0" width="1.5" height="2.5" fill="#1c1c1c"/>
<rect x="84.4" y="182.8" width="1.5" height="2.5" fill="#1c1c1c"/>
<rect x="94.0" y="179.9" width="1.5" height="2.5" fill="#1c1c1c"/>
<rect x="112.0" y="151.8" width="1.5" height="2.5" fill="#1c1c1c"/>
<rect x="87.7" y="164.0" width="1.5" height="2.5" fill="#1c1c1c"/>
<rect x="101.4" y="156.2" width="1.5" height="2.5" fill="#1c1c1c"/>
<rect x="133.8" y="102.7" width="1.5" height="2.5" fill="#1c1c1c"/>
<rect x="117.7" y="146.2" width="1.5" height="2.5" fill="#1c1c1c"/>
<rect x="70.1" y="165.3" width="1.5" height="2.5" fill="#1c1c1c"/>
<rect x="186.1" y="58.5" width="1.5" height="2.5" fill="#1c1c1c"/>
<rect x="109.4" y="156.6" width="1.5" height="2.5" fill="#1c1c1c"/>
<rect x="75.3" y="163.0" width="1.5" height="2.5" fill="#1c1c1c"/>
<rect x="201.4" y="61.0" width="1.5" height="2.5" fill="#1c1c1c"/>
<rect x="201.6" y="72.8" width="1.5" height="2.5" fill="#1c1c1c"/>
<rect x="114.1" y="169.7" width="1.5" height="2.5" fill="#1c1c1c"/>
<rect x="157.4" y="87.3" width="1.5" height="2.5" fill="#1c1c1c"/>
<rect x="184.1" y="59.0" width="1.5" height="2.5" fill="#1c1c1c"/>
<rect x="96.6" y="186.4" width="1.5" height="2.5" fill="#1c1c1c"/>
<rect x="88.8" y="160.0" width="1.5" height="2.5" fill="#1c1c1c"/>
<rect x="167.1" y="101.4" width="1.5" height="2.5" fill="#1c1c1c"/>
<rect x="111.9" y="135.2" width="1.5" height="2.5" fill="#1c1c1c"/>
<rect x="90.3" y="166.0" width="1.5" height="2.5" fill="#1c1c1c"/>
<rect x="123.8" y="152.5" width="1.5" height="2.5" fill="#1c1c1c"/>
<rect x="158.1" y="81.9" width="1.5" height="2.5" fill="#1c1c1c"/>
<rect x="69.8" y="181.7" width="1.5" height="2.5" fill="#1c1c1c"/>
<rect x="126.9" y="123.0" width="1.5" height="2.5" fill="#1c1c1c"/>
<rect x="104.2" y="163.6" width="1.5" height="2.5" fill="#1c1c1c"/>
<rect x="86.1" y="159.6" width="1.5" height="2.5" fill="#1c1c1c"/>
<rect x="131.9" y="101.9" width="1.5" height="2.5" fill="#1c1c1c"/>
<rect x="69.7" y="178.9" width="1.5" height="2.5" fill="#1c1c1c"/>
<rect x="71.8" y="164.5" width="1.5" height="2.5" fill="#1c1c1c"/>
<rect x="151.0" y="98.8" width="1.5" height="2.5" fill="#1c1c1c"/>
<rect x="69.7" y="173.1" width="1.5" height="2.5" fill="#1c1c1c"/>
<rect x="87.5" y="142.3" width="1.5" height="2.5" fill="#1c1c1c"/>
<rect x="152.1" y="102.3" width="1.5" height="2.5" fill="#1c1c1c"/>
<rect x="112.1" y="162.3" width="1.5" height="2.5" fill="#1c1c1c"/>
<rect x="113.4" y="167.4" width="1.5" height="2.5" fill="#1c1c1c"/>
<rect x="120.2" y="147.4" width="1.5" height="2.5" fill="#1c1c1c"/>
<rect x="150.4" y="101.6" width="1.5" height="2.5" fill="#1c1c1c"/>
<rect x="170.3" y="78.7" width="1.5" height="2.5" fill="#1c1c1c"/>
<rect x="158.3" y="80.3" width="1.5" height="2.5" fill="#1c1c1c"/>
<rect x="105.8" y="179.4" width="1.5" height="2.5" fill="#1c1c1c"/>
<rect x="152.8" y="89.3" width="1.5" height="2.5" fill="#1c1c1c"/>
<rect x="100.0" y="159.7" width="1.5" height="2.5" fill="#1c1c1c"/>
<rect x="135.4" y="119.9" width="1.5" height="2.5" fill="#1c1c1c"/>
<rect x="117.5" y="116.7" width="1.5" height="2.5" fill="#1c1c1c"/>
<rect x="100.1" y="169.8" width="1.5" height="2.5" fill="#1c1c1c"/>
<rect x="109.1" y="178.9" width="1.5" height="2.5" fill="#1c1c1c"/>
<rect x="185.7" y="57.6" width="1.5" height="2.5" fill="#1c1c1c"/>
<rect x="97.4" y="168.1" width="1.5" height="2.5" fill="#1c1c1c"/>
<rect x="78.2" y="175.1" width="1.5" height="2.5" fill="#1c1c1c"/>
<rect x="113.9" y="119.3" width="1.5" height="2.5" fill="#1c1c1c"/>
<rect x="129.8" y="117.1" width="1.5" height="2.5" fill="#1c1c1c"/>
<rect x="138.9" y="103.0" width="1.5" height="2.5" fill="#1c1c1c"/>
<rect x="103.7" y="136.5" width="1.5" height="2.5" fill="#1c1c1c"/>
<rect x="190.4" y="62.0" width="1.5" height="2.5" fill="#1c1c1c"/>
<rect x="83.1" y="182.3" width="1.5" height="2.5" fill="#1c1c1c"/>
<rect x="97.8" y="170.4" width="1.5" height="2.5" fill="#1c1c1c"/>
<rect x="110.8" y="161.7" width="1.5" height="2.5" fill="#1c1c1c"/>
<rect x="180.1" y="63.7" width="1.5" height="2.5" fill="#1c1c1c"/>
<rect x="113.7" y="171.3" width="1.5" height="2.5" fill="#1c1c1c"/>
<rect x="91.7" y="181.3" width="1.5" height="2.5" fill="#1c1c1c"/>
<rect x="75.1" y="175.2" width="1.5" height="2.5" fill="#1c1c1c"/>
<rect x="99.4" y="182.4" width="1.8" height="2.6" fill="#151515"/>
<rect x="96.3" y="178.4" width="1.8" height="2.6" fill="#151515"/>
<rect x="92.8" y="184.1" width="1.8" height="2.6" fill="#151515"/>
<rect x="91.8" y="185.3" width="1.8" height="2.6" fill="#151515"/>
<rect x="98.4" y="181.2" width="1.8" height="2.6" fill="#151515"/>
<rect x="99.4" y="182.9" width="1.8" height="2.6" fill="#151515"/>
<rect x="98.5" y="176.3" width="1.8" height="2.6" fill="#151515"/>
<rect x="80.8" y="176.4" width="1.8" height="2.6" fill="#151515"/>
<rect x="72.8" y="182.2" width="1.8" height="2.6" fill="#151515"/>
<rect x="100.3" y="181.9" width="1.8" height="2.6" fill="#151515"/>
<rect x="100.3" y="184.1" width="1.8" height="2.6" fill="#151515"/>
<rect x="90.0" y="179.3" width="1.8" height="2.6" fill="#151515"/>
<rect x="77.8" y="185.7" width="1.8" height="2.6" fill="#151515"/>
<rect x="99.4" y="185.0" width="1.8" height="2.6" fill="#151515"/>
<rect x="81.8" y="183.3" width="1.8" height="2.6" fill="#151515"/>
<rect x="87.6" y="184.2" width="1.8" height="2.6" fill="#151515"/>
<rect x="88.5" y="174.8" width="1.8" height="2.6" fill="#151515"/>
<rect x="80.1" y="177.8" width="1.8" height="2.6" fill="#151515"/>
<rect x="81.6" y="178.7" width="1.8" height="2.6" fill="#151515"/>
<rect x="72.6" y="180.6" width="1.8" height="2.6" fill="#151515"/>
<rect x="99.4" y="181.8" width="1.8" height="2.6" fill="#151515"/>
<rect x="78.3" y="185.9" width="1.8" height="2.6" fill="#151515"/>
<rect x="97.5" y="184.9" width="1.8" height="2.6" fill="#151515"/>
<rect x="75.5" y="182.8" width="1.8" height="2.6" fill="#151515"/>
<rect x="81.6" y="183.9" width="1.8" height="2.6" fill="#151515"/>
<rect x="83.0" y="177.5" width="1.8" height="2.6" fill="#151515"/>
<rect x="100.2" y="184.5" width="1.8" height="2.6" fill="#151515"/>
<rect x="90.9" y="180.2" width="1.8" height="2.6" fill="#151515"/>
<rect x="88.5" y="182.3" width="1.8" height="2.6" fill="#151515"/>
<rect x="84.5" y="179.4" width="1.8" height="2.6" fill="#151515"/>
<rect x="79.8" y="181.9" width="1.8" height="2.6" fill="#151515"/>
<rect x="80.4" y="179.5" width="1.8" height="2.6" fill="#151515"/>
<rect x="80.5" y="185.2" width="1.8" height="2.6" fill="#151515"/>
<rect x="87.2" y="176.4" width="1.8" height="2.6" fill="#151515"/>
<rect x="75.6" y="183.6" width="1.8" height="2.6" fill="#151515"/>
<rect x="99.3" y="177.3" width="1.8" height="2.6" fill="#151515"/>
<rect x="88.6" y="180.3" width="1.8" height="2.6" fill="#151515"/>
<rect x="84.8" y="182.7" width="1.8" height="2.6" fill="#151515"/>
<rect x="95.4" y="184.1" width="1.8" height="2.6" fill="#151515"/>
<rect x="78.5" y="181.6" width="1.8" height="2.6" fill="#151515"/>
<rect x="76.6" y="176.8" width="1.8" height="2.6" fill="#151515"/>
<rect x="82.1" y="181.3" width="1.8" height="2.6" fill="#151515"/>
<rect x="86.4" y="175.2" width="1.8" height="2.6" fill="#151515"/>
<rect x="86.4" y="176.7" width="1.8" height="2.6" fill="#151515"/>
<rect x="77.1" y="184.6" width="1.8" height="2.6" fill="#151515"/>
<rect x="90.9" y="177.5" width="1.8" height="2.6" fill="#151515"/>
<rect x="94.5" y="186.0" width="1.8" height="2.6" fill="#151515"/>
<rect x="96.9" y="176.4" width="1.8" height="2.6" fill="#151515"/>
<rect x="91.2" y="179.4" width="1.8" height="2.6" fill="#151515"/>
<rect x="84.9" y="176.8" width="1.8" height="2.6" fill="#151515"/>
<rect x="75.7" y="185.9" width="1.8" height="2.6" fill="#151515"/>
<rect x="85.4" y="176.6" width="1.8" height="2.6" fill="#151515"/>
<rect x="85.6" y="179.9" width="1.8" height="2.6" fill="#151515"/>
<rect x="76.6" y="183.2" width="1.8" height="2.6" fill="#151515"/>
<rect x="90.2" y="183.0" width="1.8" height="2.6" fill="#151515"/>
<rect x="96.4" y="184.8" width="1.8" height="2.6" fill="#151515"/>
<rect x="101.1" y="182.8" width="1.8" height="2.6" fill="#151515"/>
<rect x="100.6" y="186.1" width="1.8" height="2.6" fill="#151515"/>
<rect x="77.7" y="179.2" width="1.8" height="2.6" fill="#151515"/>
<rect x="86.1" y="180.1" width="1.8" height="2.6" fill="#151515"/>
<rect x="74.9" y="179.2" width="1.8" height="2.6" fill="#151515"/>
<rect x="95.0" y="180.6" width="1.8" height="2.6" fill="#151515"/>
<rect x="91.4" y="182.7" width="1.8" height="2.6" fill="#151515"/>
<rect x="90.3" y="174.8" width="1.8" height="2.6" fill="#151515"/>
<rect x="83.2" y="183.3" width="1.8" height="2.6" fill="#151515"/>
<rect x="82.7" y="185.8" width="1.8" height="2.6" fill="#151515"/>
<rect x="99.9" y="180.6" width="1.8" height="2.6" fill="#151515"/>
<rect x="100.5" y="177.1" width="1.8" height="2.6" fill="#151515"/>
<rect x="86.0" y="185.3" width="1.8" height="2.6" fill="#151515"/>
<rect x="74.7" y="180.6" width="1.8" height="2.6" fill="#151515"/>
<rect x="84.2" y="179.2" width="1.8" height="2.6" fill="#151515"/>
<rect x="84.7" y="181.6" width="1.8" height="2.6" fill="#151515"/>
<rect x="98.9" y="175.3" width="1.8" height="2.6" fill="#151515"/>
<rect x="76.3" y="182.6" width="1.8" height="2.6" fill="#151515"/>
<rect x="87.8" y="183.0" width="1.8" height="2.6" fill="#151515"/>
<rect x="96.6" y="184.1" width="1.8" height="2.6" fill="#151515"/>
<rect x="81.4" y="177.2" width="1.8" height="2.6" fill="#151515"/>
<rect x="90.1" y="175.3" width="1.8" height="2.6" fill="#151515"/>
<rect x="89.3" y="181.8" width="1.8" height="2.6" fill="#151515"/>
<rect x="86.2" y="184.5" width="1.8" height="2.6" fill="#151515"/>
<rect x="74.0" y="174.9" width="1.8" height="2.6" fill="#151515"/>
<rect x="99.1" y="184.4" width="1.8" height="2.6" fill="#151515"/>
<rect x="73.2" y="183.0" width="1.8" height="2.6" fill="#151515"/>
<rect x="89.1" y="176.3" width="1.8" height="2.6" fill="#151515"/>
<rect x="84.1" y="181.6" width="1.8" height="2.6" fill="#151515"/>
<rect x="89.7" y="177.0" width="1.8" height="2.6" fill="#151515"/>
<rect x="72.4" y="175.4" width="1.8" height="2.6" fill="#151515"/>
<rect x="79.1" y="178.3" width="1.8" height="2.6" fill="#151515"/>
<rect x="78.1" y="178.6" width="1.8" height="2.6" fill="#151515"/>
<rect x="75.0" y="179.2" width="1.8" height="2.6" fill="#151515"/>
<rect x="157.6" y="114.4" width="1.7" height="2.5" fill="#151515"/>
<rect x="161.5" y="119.7" width="1.7" height="2.5" fill="#151515"/>
<rect x="196.2" y="81.1" width="1.7" height="2.5" fill="#151515"/>
<rect x="137.6" y="134.3" width="1.7" height="2.5" fill="#151515"/>
<rect x="136.6" y="138.9" width="1.7" height="2.5" fill="#151515"/>
<rect x="160.8" y="122.1" width="1.7" height="2.5" fill="#151515"/>
<rect x="160.4" y="115.8" width="1.7" height="2.5" fill="#151515"/>
<rect x="134.6" y="130.9" width="1.7" height="2.5" fill="#151515"/>
<rect x="144.6" y="134.4" width="1.7" height="2.5" fill="#151515"/>
<rect x="213.7" y="74.8" width="1.7" height="2.5" fill="#151515"/>
<rect x="182.5" y="101.5" width="1.7" height="2.5" fill="#151515"/>
<rect x="166.6" y="116.7" width="1.7" height="2.5" fill="#151515"/>
<rect x="149.0" y="130.5" width="1.7" height="2.5" fill="#151515"/>
<rect x="130.8" y="140.1" width="1.7" height="2.5" fill="#151515"/>
<rect x="68.8" y="131.4" width="1.6" height="2.3" fill="#e24040"/>
<rect x="100.4" y="121.4" width="1.6" height="2.3" fill="#e24040"/>
<rect x="78.3" y="133.5" width="1.6" height="2.3" fill="#e24040"/>
<rect x="94.8" y="122.6" width="1.6" height="2.3" fill="#e24040"/>
<rect x="102.4" y="121.3" width="1.6" height="2.3" fill="#e24040"/>
<rect x="87.1" y="124.8" width="1.6" height="2.3" fill="#e24040"/>
<rect x="82.1" y="133.5" width="1.6" height="2.3" fill="#e24040"/>
<rect x="69.5" y="134.9" width="1.6" height="2.3" fill="#e24040"/>
<rect x="65.0" y="132.4" width="1.6" height="2.3" fill="#e24040"/>
<rect x="91.2" y="130.7" width="1.6" height="2.3" fill="#e24040"/>
<rect x="81.9" y="130.2" width="1.6" height="2.3" fill="#e24040"/>
<rect x="86.9" y="123.0" width="1.6" height="2.3" fill="#e24040"/>
<rect x="64.7" y="137.2" width="1.6" height="2.3" fill="#e24040"/>
<rect x="71.4" y="141.8" width="1.6" height="2.3" fill="#e24040"/>
<rect x="95.5" y="121.9" width="1.6" height="2.3" fill="#e24040"/>
<rect x="92.4" y="124.1" width="1.6" height="2.3" fill="#e24040"/>
<rect x="73.9" y="134.6" width="1.6" height="2.3" fill="#e24040"/>
<rect x="76.1" y="137.7" width="1.6" height="2.3" fill="#e24040"/>
<rect x="73.4" y="128.5" width="1.6" height="2.3" fill="#e24040"/>
<rect x="91.0" y="126.1" width="1.6" height="2.3" fill="#e24040"/>
<rect x="69.4" y="143.9" width="1.6" height="2.3" fill="#e24040"/>
<rect x="65.1" y="150.6" width="1.6" height="2.3" fill="#e24040"/>
<rect x="73.4" y="138.4" width="1.6" height="2.3" fill="#e24040"/>
<rect x="70.0" y="147.6" width="1.6" height="2.3" fill="#e24040"/>
<rect x="65.2" y="136.4" width="1.6" height="2.3" fill="#e24040"/>
<rect x="89.1" y="127.1" width="1.6" height="2.3" fill="#e24040"/>
<rect x="99.7" y="124.2" width="1.6" height="2.3" fill="#e24040"/>
<rect x="99.5" y="122.0" width="1.6" height="2.3" fill="#e24040"/>
<rect x="69.4" y="140.1" width="1.6" height="2.3" fill="#e24040"/>
<rect x="95.5" y="123.5" width="1.6" height="2.3" fill="#e24040"/>
<rect x="69.1" y="140.2" width="1.6" height="2.3" fill="#e24040"/>
<rect x="87.5" y="127.9" width="1.6" height="2.3" fill="#e24040"/>
<rect x="75.2" y="135.9" width="1.6" height="2.3" fill="#e24040"/>
<rect x="84.2" y="129.2" width="1.6" height="2.3" fill="#e24040"/>
<rect x="64.8" y="147.3" width="1.6" height="2.3" fill="#e24040"/>
<rect x="99.3" y="121.4" width="1.6" height="2.3" fill="#e24040"/>
<rect x="93.3" y="125.5" width="1.6" height="2.3" fill="#e24040"/>
<rect x="93.1" y="122.2" width="1.6" height="2.3" fill="#e24040"/>
<rect x="66.2" y="132.9" width="1.6" height="2.3" fill="#e24040"/>
<rect x="83.3" y="130.7" width="1.6" height="2.3" fill="#e24040"/>
<rect x="67.3" y="148.9" width="1.6" height="2.3" fill="#e24040"/>
<rect x="69.1" y="135.5" width="1.6" height="2.3" fill="#e24040"/>
<rect x="69.0" y="135.8" width="1.6" height="2.3" fill="#e24040"/>
<rect x="66.4" y="143.6" width="1.6" height="2.3" fill="#e24040"/>
<rect x="84.9" y="124.9" width="1.6" height="2.3" fill="#e24040"/>
<rect x="85.1" y="126.5" width="1.6" height="2.3" fill="#e24040"/>
<rect x="92.8" y="129.4" width="1.6" height="2.3" fill="#e24040"/>
<rect x="83.8" y="123.7" width="1.6" height="2.3" fill="#e24040"/>
<rect x="92.9" y="127.4" width="1.6" height="2.3" fill="#e24040"/>
<rect x="98.3" y="121.1" width="1.6" height="2.3" fill="#e24040"/>
<rect x="79.8" y="128.2" width="1.6" height="2.3" fill="#e24040"/>
<rect x="67.1" y="134.4" width="1.6" height="2.3" fill="#e24040"/>
<rect x="68.3" y="128.4" width="1.6" height="2.3" fill="#e24040"/>
<rect x="90.3" y="123.2" width="1.6" height="2.3" fill="#e24040"/>
<rect x="76.5" y="127.9" width="1.6" height="2.3" fill="#e24040"/>
<rect x="70.3" y="143.0" width="1.6" height="2.3" fill="#e24040"/>
<rect x="76.8" y="134.0" width="1.6" height="2.3" fill="#e24040"/>
<rect x="65.0" y="143.1" width="1.6" height="2.3" fill="#e24040"/>
<rect x="99.7" y="123.9" width="1.6" height="2.3" fill="#e24040"/>
<rect x="79.4" y="132.7" width="1.6" height="2.3" fill="#e24040"/>
<rect x="64.9" y="149.0" width="1.6" height="2.3" fill="#e24040"/>
<rect x="89.7" y="124.7" width="1.6" height="2.3" fill="#e24040"/>
<rect x="97.9" y="124.5" width="1.6" height="2.3" fill="#e24040"/>
<rect x="87.3" y="132.1" width="1.6" height="2.3" fill="#e24040"/>
<rect x="77.0" y="141.6" width="1.6" height="2.3" fill="#e24040"/>
<rect x="86.5" y="131.2" width="1.6" height="2.3" fill="#e24040"/>
<rect x="65.7" y="134.4" width="1.6" height="2.3" fill="#e24040"/>
<rect x="98.8" y="120.8" width="1.6" height="2.3" fill="#e24040"/>
<rect x="71.5" y="139.9" width="1.6" height="2.3" fill="#e24040"/>
<rect x="93.8" y="125.5" width="1.6" height="2.3" fill="#e24040"/>
<rect x="92.2" y="123.3" width="1.6" height="2.3" fill="#e24040"/>
<rect x="74.6" y="133.0" width="1.6" height="2.3" fill="#e24040"/>
<rect x="68.5" y="129.2" width="1.6" height="2.3" fill="#e24040"/>
<rect x="75.9" y="134.3" width="1.6" height="2.3" fill="#e24040"/>
<rect x="72.5" y="136.3" width="1.6" height="2.3" fill="#e24040"/>
<rect x="98.6" y="122.8" width="1.6" height="2.3" fill="#e24040"/>
<rect x="87.9" y="129.8" width="1.6" height="2.3" fill="#e24040"/>
<rect x="99.1" y="123.0" width="1.6" height="2.3" fill="#e24040"/>
<rect x="91.2" y="129.6" width="1.6" height="2.3" fill="#e24040"/>
<rect x="86.4" y="129.0" width="1.6" height="2.3" fill="#e24040"/>
<rect x="79.0" y="129.8" width="1.6" height="2.3" fill="#e24040"/>
<rect x="67.4" y="132.9" width="1.6" height="2.3" fill="#e24040"/>
<rect x="69.7" y="132.5" width="1.6" height="2.3" fill="#e24040"/>
<rect x="85.6" y="126.0" width="1.6" height="2.3" fill="#e24040"/>
<rect x="89.1" y="122.4" width="1.6" height="2.3" fill="#e24040"/>
<rect x="78.4" y="127.6" width="1.6" height="2.3" fill="#e24040"/>
<rect x="73.7" y="144.8" width="1.6" height="2.3" fill="#e24040"/>
<rect x="102.4" y="120.7" width="1.6" height="2.3" fill="#e24040"/>
<rect x="91.7" y="124.3" width="1.6" height="2.3" fill="#e24040"/>
<rect x="64.5" y="134.5" width="1.6" height="2.3" fill="#e24040"/>
<rect x="96.0" y="120.7" width="1.6" height="2.3" fill="#e24040"/>
<rect x="70.2" y="144.8" width="1.6" height="2.3" fill="#e24040"/>
<rect x="64.4" y="138.2" width="1.6" height="2.3" fill="#e24040"/>
<rect x="93.1" y="123.5" width="1.6" height="2.3" fill="#e24040"/>
<rect x="75.0" y="132.3" width="1.6" height="2.3" fill="#e24040"/>
<rect x="76.8" y="131.8" width="1.6" height="2.3" fill="#e24040"/>
<rect x="66.0" y="150.4" width="1.6" height="2.3" fill="#e24040"/>
<rect x="72.3" y="138.6" width="1.6" height="2.3" fill="#e24040"/>
<rect x="95.2" y="125.4" width="1.6" height="2.3" fill="#e24040"/>
<rect x="102.4" y="120.6" width="1.6" height="2.3" fill="#e24040"/>
<rect x="76.8" y="129.3" width="1.6" height="2.3" fill="#e24040"/>
<rect x="87.1" y="132.5" width="1.6" height="2.3" fill="#e24040"/>
<rect x="100.1" y="120.7" width="1.6" height="2.3" fill="#e24040"/>
<rect x="69.2" y="139.1" width="1.6" height="2.3" fill="#e24040"/>
<rect x="88.4" y="131.5" width="1.6" height="2.3" fill="#e24040"/>
<rect x="67.2" y="149.3" width="1.6" height="2.3" fill="#e24040"/>
<rect x="75.9" y="140.9" width="1.6" height="2.3" fill="#e24040"/>
<rect x="88.2" y="128.8" width="1.6" height="2.3" fill="#e24040"/>
<rect x="77.5" y="138.9" width="1.6" height="2.3" fill="#e24040"/>
<rect x="77.4" y="140.2" width="1.6" height="2.3" fill="#e24040"/>
<rect x="70.8" y="137.8" width="1.6" height="2.3" fill="#e24040"/>
<rect x="99.8" y="120.7" width="1.6" height="2.3" fill="#e24040"/>
<rect x="79.3" y="137.2" width="1.6" height="2.3" fill="#e24040"/>
<rect x="74.1" y="135.6" width="1.6" height="2.3" fill="#e24040"/>
<rect x="100.9" y="119.0" width="1.6" height="2.3" fill="#e24040"/>
<rect x="66.1" y="142.7" width="1.6" height="2.3" fill="#e24040"/>
<rect x="64.0" y="131.4" width="1.6" height="2.3" fill="#e24040"/>
<rect x="75.8" y="136.6" width="1.6" height="2.3" fill="#e24040"/>
<rect x="87.7" y="124.3" width="1.6" height="2.3" fill="#e24040"/>
<rect x="72.4" y="137.8" width="1.6" height="2.3" fill="#e24040"/>
<rect x="82.6" y="127.7" width="1.6" height="2.3" fill="#e24040"/>
<rect x="74.1" y="142.0" width="1.6" height="2.3" fill="#e24040"/>
<rect x="71.7" y="141.5" width="1.6" height="2.3" fill="#e24040"/>
<rect x="90.7" y="123.2" width="1.6" height="2.3" fill="#e24040"/>
<rect x="84.1" y="132.7" width="1.6" height="2.3" fill="#e24040"/>
<rect x="86.0" y="128.8" width="1.6" height="2.3" fill="#e24040"/>
<rect x="87.5" y="124.7" width="1.6" height="2.3" fill="#e24040"/>
<rect x="97.4" y="125.2" width="1.6" height="2.3" fill="#e24040"/>
<rect x="70.7" y="138.5" width="1.6" height="2.3" fill="#e24040"/>
<rect x="74.0" y="140.5" width="1.6" height="2.3" fill="#e24040"/>
<rect x="85.0" y="125.1" width="1.6" height="2.3" fill="#e24040"/>
<rect x="68.2" y="136.1" width="1.6" height="2.3" fill="#e24040"/>
<rect x="98.2" y="119.5" width="1.6" height="2.3" fill="#e24040"/>
<rect x="101.4" y="118.8" width="1.6" height="2.3" fill="#e24040"/>
<rect x="97.9" y="122.5" width="1.6" height="2.3" fill="#e24040"/>
<rect x="88.7" y="129.6" width="1.6" height="2.3" fill="#e24040"/>
<rect x="65.0" y="135.0" width="1.6" height="2.3" fill="#e24040"/>
<rect x="79.3" y="139.8" width="1.6" height="2.3" fill="#e24040"/>
<rect x="95.6" y="123.2" width="1.6" height="2.3" fill="#e24040"/>
<rect x="80.9" y="131.4" width="1.6" height="2.3" fill="#e24040"/>
<rect x="72.4" y="144.2" width="1.6" height="2.3" fill="#e24040"/>
<rect x="85.0" y="123.7" width="1.6" height="2.3" fill="#e24040"/>
<rect x="92.4" y="126.7" width="1.6" height="2.3" fill="#e24040"/>
<rect x="84.9" y="129.5" width="1.6" height="2.3" fill="#e24040"/>
<rect x="93.2" y="128.2" width="1.6" height="2.3" fill="#e24040"/>
<rect x="68.4" y="141.2" width="1.6" height="2.3" fill="#e24040"/>
<rect x="86.6" y="128.9" width="1.6" height="2.3" fill="#e24040"/>
<rect x="66.8" y="145.7" width="1.6" height="2.3" fill="#e24040"/>
<rect x="79.1" y="131.6" width="1.6" height="2.3" fill="#e24040"/>
<rect x="75.0" y="137.6" width="1.6" height="2.3" fill="#e24040"/>
<rect x="96.3" y="121.1" width="1.6" height="2.3" fill="#e24040"/>
<rect x="65.7" y="138.1" width="1.6" height="2.3" fill="#e24040"/>
<rect x="99.6" y="123.7" width="1.6" height="2.3" fill="#e24040"/>
<rect x="88.5" y="130.1" width="1.6" height="2.3" fill="#e24040"/>
<rect x="82.6" y="125.6" width="1.6" height="2.3" fill="#e24040"/>
<rect x="68.6" y="131.0" width="1.6" height="2.3" fill="#e24040"/>
<rect x="72.8" y="143.0" width="1.6" height="2.3" fill="#e24040"/>
<rect x="72.8" y="127.3" width="1.6" height="2.3" fill="#e24040"/>
<rect x="76.3" y="136.1" width="1.6" height="2.3" fill="#e24040"/>
<rect x="74.3" y="142.5" width="1.6" height="2.3" fill="#e24040"/>
<rect x="80.1" y="139.5" width="1.6" height="2.3" fill="#e24040"/>
<rect x="84.1" y="129.2" width="1.6" height="2.3" fill="#e24040"/>
<rect x="100.9" y="122.4" width="1.6" height="2.3" fill="#e24040"/>
<rect x="79.3" y="136.8" width="1.6" height="2.3" fill="#e24040"/>
<rect x="95.3" y="121.1" width="1.6" height="2.3" fill="#e24040"/>
<rect x="94.8" y="123.6" width="1.6" height="2.3" fill="#e24040"/>
<rect x="79.8" y="138.9" width="1.6" height="2.3" fill="#e24040"/>
<rect x="74.3" y="134.8" width="1.6" height="2.3" fill="#e24040"/>
<rect x="82.6" y="133.9" width="1.6" height="2.3" fill="#e24040"/>
<rect x="90.5" y="122.9" width="1.6" height="2.3" fill="#e24040"/>
<rect x="69.6" y="139.4" width="1.6" height="2.3" fill="#e24040"/>
<rect x="98.3" y="121.1" width="1.6" height="2.3" fill="#e24040"/>
<rect x="76.5" y="130.6" width="1.6" height="2.3" fill="#e24040"/>
<rect x="64.0" y="138.7" width="1.6" height="2.3" fill="#e24040"/>
<rect x="99.3" y="122.3" width="1.6" height="2.3" fill="#e24040"/>
<rect x="65.5" y="141.6" width="1.6" height="2.3" fill="#e24040"/>
<rect x="70.4" y="141.0" width="1.6" height="2.3" fill="#e24040"/>
<rect x="86.7" y="133.7" width="1.6" height="2.3" fill="#e24040"/>
<rect x="85.2" y="123.1" width="1.6" height="2.3" fill="#e24040"/>
<rect x="89.4" y="122.4" width="1.6" height="2.3" fill="#e24040"/>
<rect x="92.7" y="127.6" width="1.6" height="2.3" fill="#e24040"/>
<rect x="79.9" y="133.8" width="1.6" height="2.3" fill="#e24040"/>
<rect x="95.8" y="125.1" width="1.6" height="2.3" fill="#e24040"/>
<rect x="67.0" y="146.4" width="1.6" height="2.3" fill="#e24040"/>
<rect x="80.2" y="126.4" width="1.6" height="2.3" fill="#e24040"/>
<rect x="80.3" y="129.9" width="1.6" height="2.3" fill="#e24040"/>
<rect x="85.4" y="127.7" width="1.6" height="2.3" fill="#e24040"/>
<rect x="92.4" y="125.2" width="1.6" height="2.3" fill="#e24040"/>
<rect x="71.5" y="138.8" width="1.6" height="2.3" fill="#e24040"/>
<rect x="81.8" y="130.1" width="1.6" height="2.3" fill="#e24040"/>
<rect x="74.9" y="133.5" width="1.6" height="2.3" fill="#e24040"/>
<rect x="76.7" y="136.9" width="1.6" height="2.3" fill="#e24040"/>
<rect x="77.8" y="131.6" width="1.6" height="2.3" fill="#e24040"/>
<rect x="93.4" y="121.9" width="1.6" height="2.3" fill="#e24040"/>
<rect x="64.3" y="139.4" width="1.6" height="2.3" fill="#e24040"/>
<rect x="96.6" y="123.8" width="1.6" height="2.3" fill="#e24040"/>
<rect x="96.3" y="126.9" width="1.6" height="2.3" fill="#e24040"/>
<rect x="79.7" y="133.1" width="1.6" height="2.3" fill="#e24040"/>
<rect x="73.8" y="142.3" width="1.6" height="2.3" fill="#e24040"/>
<rect x="88.8" y="123.9" width="1.6" height="2.3" fill="#e24040"/>
<rect x="70.5" y="134.7" width="1.6" height="2.3" fill="#e24040"/>
<rect x="78.9" y="140.8" width="1.6" height="2.3" fill="#e24040"/>
<rect x="68.9" y="132.1" width="1.6" height="2.3" fill="#e24040"/>
<rect x="83.9" y="133.6" width="1.6" height="2.3" fill="#e24040"/>
<rect x="73.0" y="135.0" width="1.6" height="2.3" fill="#e24040"/>
<rect x="95.1" y="127.6" width="1.6" height="2.3" fill="#e24040"/>
<rect x="85.8" y="132.8" width="1.6" height="2.3" fill="#e24040"/>
<rect x="79.8" y="138.5" width="1.6" height="2.3" fill="#e24040"/>
<rect x="63.7" y="143.7" width="1.6" height="2.3" fill="#e24040"/>
<rect x="66.0" y="129.2" width="1.6" height="2.3" fill="#e24040"/>
<rect x="71.6" y="133.0" width="1.6" height="2.3" fill="#e24040"/>
<rect x="63.7" y="150.2" width="1.6" height="2.3" fill="#e24040"/>
<rect x="89.4" y="127.1" width="1.6" height="2.3" fill="#e24040"/>
<rect x="72.3" y="130.7" width="1.6" height="2.3" fill="#e24040"/>
<rect x="70.1" y="145.2" width="1.6" height="2.3" fill="#e24040"/>
<rect x="80.2" y="130.8" width="1.6" height="2.3" fill="#e24040"/>
<rect x="64.4" y="142.5" width="1.6" height="2.3" fill="#e24040"/>
<rect x="99.9" y="122.8" width="1.6" height="2.3" fill="#e24040"/>
<rect x="100.9" y="122.5" width="1.6" height="2.3" fill="#e24040"/>
<rect x="93.9" y="121.4" width="1.6" height="2.3" fill="#e24040"/>
<rect x="90.8" y="125.7" width="1.6" height="2.3" fill="#e24040"/>
<rect x="98.5" y="124.0" width="1.6" height="2.3" fill="#e24040"/>
<rect x="80.2" y="136.8" width="1.6" height="2.3" fill="#e24040"/>
<rect x="95.4" y="122.8" width="1.6" height="2.3" fill="#e24040"/>
<rect x="66.0" y="138.8" width="1.6" height="2.3" fill="#e24040"/>
<rect x="88.3" y="129.3" width="1.6" height="2.3" fill="#e24040"/>
<rect x="102.1" y="122.0" width="1.6" height="2.3" fill="#e24040"/>
<rect x="100.2" y="120.6" width="1.6" height="2.3" fill="#e24040"/>
<rect x="64.9" y="132.3" width="1.6" height="2.3" fill="#e24040"/>
<rect x="88.4" y="130.2" width="1.6" height="2.3" fill="#e24040"/>
<rect x="98.5" y="121.5" width="1.6" height="2.3" fill="#e24040"/>
<rect x="75.3" y="135.4" width="1.6" height="2.3" fill="#e24040"/>
<rect x="77.1" y="126.3" width="1.6" height="2.3" fill="#e24040"/>
<rect x="67.8" y="140.5" width="1.6" height="2.3" fill="#e24040"/>
<rect x="73.4" y="140.9" width="1.6" height="2.3" fill="#e24040"/>
<rect x="85.1" y="131.4" width="1.6" height="2.3" fill="#e24040"/>
<rect x="90.9" y="125.1" width="1.6" height="2.3" fill="#e24040"/>
<rect x="90.9" y="122.3" width="1.6" height="2.3" fill="#e24040"/>
<rect x="77.7" y="133.0" width="1.6" height="2.3" fill="#e24040"/>
<rect x="77.2" y="140.5" width="1.6" height="2.3" fill="#e24040"/>
<rect x="102.3" y="112.6" width="1.4" height="1.8" fill="#d04848"/>
<rect x="105.3" y="113.6" width="1.4" height="1.8" fill="#d04848"/>
<rect x="108.3" y="112.7" width="1.4" height="1.8" fill="#d04848"/>
<rect x="103.8" y="114.7" width="1.4" height="1.8" fill="#d04848"/>
<rect x="107.3" y="114.9" width="1.4" height="1.8" fill="#d04848"/>
<rect x="158.5" y="75.9" width="1.6" height="2.3" fill="#e24040"/>
<rect x="112.7" y="110.5" width="1.6" height="2.3" fill="#e24040"/>
<rect x="121.6" y="105.4" width="1.6" height="2.3" fill="#e24040"/>
<rect x="133.4" y="96.5" width="1.6" height="2.3" fill="#e24040"/>
<rect x="160.8" y="72.9" width="1.6" height="2.3" fill="#e24040"/>
<rect x="129.8" y="99.2" width="1.6" height="2.3" fill="#e24040"/>
<rect x="142.3" y="87.1" width="1.6" height="2.3" fill="#e24040"/>
<rect x="140.7" y="88.4" width="1.6" height="2.3" fill="#e24040"/>
<rect x="101.0" y="120.7" width="1.6" height="2.3" fill="#e24040"/>
<rect x="147.9" y="84.1" width="1.6" height="2.3" fill="#e24040"/>
<rect x="100.5" y="121.8" width="1.6" height="2.3" fill="#e24040"/>
<rect x="107.6" y="117.9" width="1.6" height="2.3" fill="#e24040"/>
<rect x="156.9" y="75.7" width="1.6" height="2.3" fill="#e24040"/>
<rect x="128.8" y="98.4" width="1.6" height="2.3" fill="#e24040"/>
<rect x="131.3" y="97.4" width="1.6" height="2.3" fill="#e24040"/>
<rect x="102.2" y="121.3" width="1.6" height="2.3" fill="#e24040"/>
<rect x="121.0" y="105.3" width="1.6" height="2.3" fill="#e24040"/>
<rect x="110.3" y="115.4" width="1.6" height="2.3" fill="#e24040"/>
<rect x="112.3" y="113.6" width="1.6" height="2.3" fill="#e24040"/>
<rect x="156.1" y="78.5" width="1.6" height="2.3" fill="#e24040"/>
<rect x="114.9" y="110.3" width="1.6" height="2.3" fill="#e24040"/>
<rect x="108.0" y="115.9" width="1.6" height="2.3" fill="#e24040"/>
<rect x="123.7" y="105.0" width="1.6" height="2.3" fill="#e24040"/>
<rect x="158.9" y="75.2" width="1.6" height="2.3" fill="#e24040"/>
<rect x="103.3" y="118.0" width="1.6" height="2.3" fill="#e24040"/>
<rect x="104.2" y="118.1" width="1.6" height="2.3" fill="#e24040"/>
<rect x="119.6" y="107.5" width="1.6" height="2.3" fill="#e24040"/>
<rect x="114.2" y="111.1" width="1.6" height="2.3" fill="#e24040"/>
<rect x="113.7" y="112.2" width="1.6" height="2.3" fill="#e24040"/>
<rect x="116.1" y="109.7" width="1.6" height="2.3" fill="#e24040"/>
<rect x="132.5" y="97.4" width="1.6" height="2.3" fill="#e24040"/>
<rect x="99.0" y="121.9" width="1.6" height="2.3" fill="#e24040"/>
<rect x="100.0" y="121.9" width="1.6" height="2.3" fill="#e24040"/>
<rect x="123.5" y="101.9" width="1.6" height="2.3" fill="#e24040"/>
<rect x="105.2" y="116.8" width="1.6" height="2.3" fill="#e24040"/>
<rect x="102.6" y="121.4" width="1.6" height="2.3" fill="#e24040"/>
<rect x="130.1" y="99.4" width="1.6" height="2.3" fill="#e24040"/>
<rect x="125.8" y="101.1" width="1.6" height="2.3" fill="#e24040"/>
<rect x="102.4" y="119.4" width="1.6" height="2.3" fill="#e24040"/>
<rect x="116.4" y="107.6" width="1.6" height="2.3" fill="#e24040"/>
<rect x="97.7" y="125.7" width="1.6" height="2.3" fill="#e24040"/>
<rect x="127.9" y="100.9" width="1.6" height="2.3" fill="#e24040"/>
<rect x="115.4" y="108.6" width="1.6" height="2.3" fill="#e24040"/>
<rect x="112.4" y="114.0" width="1.6" height="2.3" fill="#e24040"/>
<rect x="103.1" y="119.6" width="1.6" height="2.3" fill="#e24040"/>
<rect x="139.2" y="90.1" width="1.6" height="2.3" fill="#e24040"/>
<rect x="119.0" y="108.0" width="1.6" height="2.3" fill="#e24040"/>
<rect x="102.5" y="121.3" width="1.6" height="2.3" fill="#e24040"/>
<rect x="105.7" y="116.4" width="1.6" height="2.3" fill="#e24040"/>
<rect x="115.6" y="111.2" width="1.6" height="2.3" fill="#e24040"/>
<rect x="129.1" y="99.2" width="1.6" height="2.3" fill="#e24040"/>
<rect x="98.4" y="122.0" width="1.6" height="2.3" fill="#e24040"/>
<rect x="158.7" y="76.3" width="1.6" height="2.3" fill="#e24040"/>
<rect x="144.5" y="86.9" width="1.6" height="2.3" fill="#e24040"/>
<rect x="131.5" y="96.6" width="1.6" height="2.3" fill="#e24040"/>
<line x1="30.00" y1="183.00" x2="219.00" y2="32.00" stroke="#111" stroke-width="0.90"/>
<rect x="29.2" y="181.5" width="1.6" height="3" fill="#111"/>
<rect x="218.2" y="30.5" width="1.6" height="3" fill="#111"/>
<line x1="30.00" y1="196.60" x2="236.50" y2="32.00" stroke="#111" stroke-width="0.90"/>
<rect x="29.2" y="195.1" width="1.6" height="3" fill="#111"/>
<rect x="235.7" y="30.5" width="1.6" height="3" fill="#111"/>
<line x1="47.50" y1="196.60" x2="236.50" y2="46.00" stroke="#111" stroke-width="0.90"/>
<rect x="46.7" y="195.1" width="1.6" height="3" fill="#111"/>
<rect x="235.7" y="44.5" width="1.6" height="3" fill="#111"/>
<text transform="translate(95.00,87.00)" font-size="6.30" font-weight="bold" fill="#222" >RHO-</text>
<text transform="translate(95.00,95.00)" font-size="6.30" font-weight="bold" fill="#222" >GTPase</text>
<text transform="translate(86.00,101.80)" font-size="6.30" font-weight="bold" fill="#222" >FZD2</text>
<text transform="translate(73.00,110.30)" font-size="6.30" font-weight="bold" fill="#222" >TCF7</text>
<text transform="translate(61.50,117.80)" font-size="6.30" font-weight="bold" fill="#222" >RARB</text>
<text transform="translate(47.40,126.40)" font-size="6.30" font-weight="bold" fill="#222" >FZD3</text>
<line x1="111.20" y1="95.80" x2="107.80" y2="110.40" stroke="#222" stroke-width="0.75"/>
<path d="M107.80,110.40 L107.32,107.62 L109.46,108.12 Z" fill="#222"/>
<line x1="99.40" y1="103.60" x2="104.60" y2="110.60" stroke="#222" stroke-width="0.75"/>
<path d="M104.60,110.60 L102.17,109.17 L103.93,107.86 Z" fill="#222"/>
<line x1="85.40" y1="112.30" x2="92.90" y2="121.00" stroke="#222" stroke-width="0.75"/>
<path d="M92.90,121.00 L90.37,119.75 L92.04,118.31 Z" fill="#222"/>
<line x1="76.10" y1="119.80" x2="80.20" y2="125.60" stroke="#222" stroke-width="0.75"/>
<path d="M80.20,125.60 L77.80,124.11 L79.60,122.84 Z" fill="#222"/>
<line x1="64.60" y1="127.30" x2="72.70" y2="133.00" stroke="#222" stroke-width="0.75"/>
<path d="M72.70,133.00 L69.94,132.40 L71.21,130.60 Z" fill="#222"/>
<ellipse cx="106.1" cy="114" rx="6.8" ry="3.4" fill="none" stroke="#333" stroke-width="0.6"/>
<ellipse cx="82.5" cy="128.4" rx="3.5" ry="2" fill="#fff" stroke="#555" stroke-width="0.4"/>
<text transform="translate(20.90,123.20) rotate(-90)" font-size="11.00" font-weight="bold" text-anchor="middle" textLength="90.60" lengthAdjust="spacingAndGlyphs" fill="#111" >CXCL12&#160; TREATED</text>
<text transform="translate(124.60,211.90)" font-size="11.00" font-weight="bold" text-anchor="middle" textLength="50.00" lengthAdjust="spacingAndGlyphs" fill="#111" >CONTROL</text>
<text transform="translate(264.40,12.00)" font-size="14.60" font-weight="bold" fill="#111" >B</text>
<line x1="304.60" y1="30.40" x2="304.60" y2="167.00" stroke="#6a6a6a" stroke-width="0.90"/>
<line x1="304.60" y1="144.30" x2="514.00" y2="144.30" stroke="#6a6a6a" stroke-width="0.90"/>
<line x1="302.10" y1="31.30" x2="304.60" y2="31.30" stroke="#6a6a6a" stroke-width="0.90"/>
<text transform="translate(300.60,34.80) scale(0.920,1)" font-size="9.60" font-weight="bold" text-anchor="end" fill="#111" >25</text>
<line x1="302.10" y1="53.90" x2="304.60" y2="53.90" stroke="#6a6a6a" stroke-width="0.90"/>
<text transform="translate(300.60,57.40) scale(0.920,1)" font-size="9.60" font-weight="bold" text-anchor="end" fill="#111" >20</text>
<line x1="302.10" y1="76.50" x2="304.60" y2="76.50" stroke="#6a6a6a" stroke-width="0.90"/>
<text transform="translate(300.60,80.00) scale(0.920,1)" font-size="9.60" font-weight="bold" text-anchor="end" fill="#111" >15</text>
<line x1="302.10" y1="99.10" x2="304.60" y2="99.10" stroke="#6a6a6a" stroke-width="0.90"/>
<text transform="translate(300.60,102.60) scale(0.920,1)" font-size="9.60" font-weight="bold" text-anchor="end" fill="#111" >10</text>
<line x1="302.10" y1="121.70" x2="304.60" y2="121.70" stroke="#6a6a6a" stroke-width="0.90"/>
<text transform="translate(300.60,125.20) scale(0.920,1)" font-size="9.60" font-weight="bold" text-anchor="end" fill="#111" >5</text>
<line x1="302.10" y1="144.30" x2="304.60" y2="144.30" stroke="#6a6a6a" stroke-width="0.90"/>
<text transform="translate(300.60,147.80) scale(0.920,1)" font-size="9.60" font-weight="bold" text-anchor="end" fill="#111" >0</text>
<line x1="302.10" y1="166.90" x2="304.60" y2="166.90" stroke="#6a6a6a" stroke-width="0.90"/>
<text transform="translate(300.60,170.40) scale(0.920,1)" font-size="9.60" font-weight="bold" text-anchor="end" fill="#111" >-5</text>
<line x1="335.00" y1="144.30" x2="335.00" y2="146.80" stroke="#6a6a6a" stroke-width="0.90"/>
<line x1="365.60" y1="144.30" x2="365.60" y2="146.80" stroke="#6a6a6a" stroke-width="0.90"/>
<line x1="396.20" y1="144.30" x2="396.20" y2="146.80" stroke="#6a6a6a" stroke-width="0.90"/>
<line x1="426.80" y1="144.30" x2="426.80" y2="146.80" stroke="#6a6a6a" stroke-width="0.90"/>
<line x1="457.40" y1="144.30" x2="457.40" y2="146.80" stroke="#6a6a6a" stroke-width="0.90"/>
<line x1="488.00" y1="144.30" x2="488.00" y2="146.80" stroke="#6a6a6a" stroke-width="0.90"/>
<line x1="320.00" y1="52.54" x2="320.00" y2="51.19" stroke="#444" stroke-width="0.80"/>
<line x1="317.00" y1="51.19" x2="323.00" y2="51.19" stroke="#444" stroke-width="0.80"/>
<rect x="314.1" y="52.5" width="11.9" height="91.8" fill="#e63c32" stroke="#8a1c1c" stroke-width="0.9"/>
<text transform="translate(323.60,190.20) rotate(-90)" font-size="10.00" font-weight="bold" fill="#111" >WNT5A</text>
<line x1="350.60" y1="135.71" x2="350.60" y2="135.26" stroke="#444" stroke-width="0.80"/>
<line x1="347.60" y1="135.26" x2="353.60" y2="135.26" stroke="#444" stroke-width="0.80"/>
<rect x="344.7" y="135.7" width="11.9" height="8.6" fill="#e63c32" stroke="#8a1c1c" stroke-width="0.9"/>
<text transform="translate(354.20,190.20) rotate(-90)" font-size="10.00" font-weight="bold" fill="#111" >WNT10A</text>
<line x1="381.20" y1="150.18" x2="381.20" y2="159.22" stroke="#444" stroke-width="0.80"/>
<line x1="378.20" y1="159.22" x2="384.20" y2="159.22" stroke="#444" stroke-width="0.80"/>
<rect x="375.2" y="144.3" width="11.9" height="5.9" fill="#4650f5" stroke="#2a2a90" stroke-width="0.9"/>
<text transform="translate(384.80,190.20) rotate(-90)" font-size="10.00" font-weight="bold" fill="#111" >WNT4</text>
<line x1="411.80" y1="119.89" x2="411.80" y2="117.18" stroke="#444" stroke-width="0.80"/>
<line x1="408.80" y1="117.18" x2="414.80" y2="117.18" stroke="#444" stroke-width="0.80"/>
<rect x="405.9" y="119.9" width="11.9" height="24.4" fill="#e63c32" stroke="#8a1c1c" stroke-width="0.9"/>
<text transform="translate(415.40,190.20) rotate(-90)" font-size="10.00" font-weight="bold" fill="#111" >WNT7A</text>
<line x1="442.40" y1="40.34" x2="442.40" y2="39.44" stroke="#444" stroke-width="0.80"/>
<line x1="439.40" y1="39.44" x2="445.40" y2="39.44" stroke="#444" stroke-width="0.80"/>
<rect x="436.4" y="40.3" width="11.9" height="104.0" fill="#e63c32" stroke="#8a1c1c" stroke-width="0.9"/>
<text transform="translate(446.00,190.20) rotate(-90)" font-size="10.00" font-weight="bold" fill="#111" >FZD2</text>
<line x1="473.00" y1="91.87" x2="473.00" y2="88.70" stroke="#444" stroke-width="0.80"/>
<line x1="470.00" y1="88.70" x2="476.00" y2="88.70" stroke="#444" stroke-width="0.80"/>
<rect x="467.1" y="91.9" width="11.9" height="52.4" fill="#e63c32" stroke="#8a1c1c" stroke-width="0.9"/>
<text transform="translate(476.60,190.20) rotate(-90)" font-size="10.00" font-weight="bold" fill="#111" >FZD3</text>
<line x1="503.60" y1="149.27" x2="503.60" y2="151.98" stroke="#444" stroke-width="0.80"/>
<line x1="500.60" y1="151.98" x2="506.60" y2="151.98" stroke="#444" stroke-width="0.80"/>
<rect x="497.7" y="144.3" width="11.9" height="5.0" fill="#4650f5" stroke="#2a2a90" stroke-width="0.9"/>
<text transform="translate(507.20,186.00) rotate(-90)" font-size="10.00" font-weight="bold" fill="#111" >JUN</text>
<text transform="translate(273.30,99.80) rotate(-90)" font-size="11.30" font-weight="bold" text-anchor="middle" textLength="123.50" lengthAdjust="spacingAndGlyphs" fill="#111" >Fold change over actin</text>
<text transform="translate(390.80,218.90)" font-size="11.80" font-weight="bold" text-anchor="middle" textLength="159.50" lengthAdjust="spacingAndGlyphs" fill="#111" >NON-CANONICAL PATHWAY</text>
<text transform="translate(0.80,247.00)" font-size="14.60" font-weight="bold" fill="#111" >C</text>
<line x1="63.40" y1="260.00" x2="63.40" y2="388.60" stroke="#6a6a6a" stroke-width="0.90"/>
<line x1="63.40" y1="308.20" x2="247.00" y2="308.20" stroke="#6a6a6a" stroke-width="0.90"/>
<line x1="60.90" y1="260.20" x2="63.40" y2="260.20" stroke="#6a6a6a" stroke-width="0.90"/>
<text transform="translate(59.80,263.80) scale(0.900,1)" font-size="9.50" font-weight="bold" text-anchor="end" fill="#111" >6</text>
<line x1="60.90" y1="276.20" x2="63.40" y2="276.20" stroke="#6a6a6a" stroke-width="0.90"/>
<text transform="translate(59.80,279.80) scale(0.900,1)" font-size="9.50" font-weight="bold" text-anchor="end" fill="#111" >4</text>
<line x1="60.90" y1="292.20" x2="63.40" y2="292.20" stroke="#6a6a6a" stroke-width="0.90"/>
<text transform="translate(59.80,295.80) scale(0.900,1)" font-size="9.50" font-weight="bold" text-anchor="end" fill="#111" >2</text>
<line x1="60.90" y1="308.20" x2="63.40" y2="308.20" stroke="#6a6a6a" stroke-width="0.90"/>
<text transform="translate(59.80,311.80) scale(0.900,1)" font-size="9.50" font-weight="bold" text-anchor="end" fill="#111" >0</text>
<line x1="60.90" y1="324.20" x2="63.40" y2="324.20" stroke="#6a6a6a" stroke-width="0.90"/>
<text transform="translate(59.80,327.80) scale(0.900,1)" font-size="9.50" font-weight="bold" text-anchor="end" fill="#111" >-2</text>
<line x1="60.90" y1="340.20" x2="63.40" y2="340.20" stroke="#6a6a6a" stroke-width="0.90"/>
<text transform="translate(59.80,343.80) scale(0.900,1)" font-size="9.50" font-weight="bold" text-anchor="end" fill="#111" >-4</text>
<line x1="60.90" y1="356.20" x2="63.40" y2="356.20" stroke="#6a6a6a" stroke-width="0.90"/>
<text transform="translate(59.80,359.80) scale(0.900,1)" font-size="9.50" font-weight="bold" text-anchor="end" fill="#111" >-6</text>
<line x1="60.90" y1="372.20" x2="63.40" y2="372.20" stroke="#6a6a6a" stroke-width="0.90"/>
<text transform="translate(59.80,375.80) scale(0.900,1)" font-size="9.50" font-weight="bold" text-anchor="end" fill="#111" >-8</text>
<line x1="60.90" y1="388.20" x2="63.40" y2="388.20" stroke="#6a6a6a" stroke-width="0.90"/>
<text transform="translate(59.80,391.80) scale(0.900,1)" font-size="9.50" font-weight="bold" text-anchor="end" fill="#111" >-10</text>
<line x1="71.30" y1="273.80" x2="71.30" y2="266.60" stroke="#555" stroke-width="0.80"/>
<line x1="68.80" y1="266.60" x2="73.80" y2="266.60" stroke="#555" stroke-width="0.80"/>
<rect x="67.7" y="273.8" width="7.2" height="34.4" fill="#e63c32" stroke="#8a1c1c" stroke-width="0.8"/>
<text transform="translate(75.40,338.00) rotate(-90) scale(0.870,1)" font-size="10.20" font-weight="bold" fill="#111" >WIF1</text>
<line x1="86.70" y1="321.00" x2="86.70" y2="323.80" stroke="#555" stroke-width="0.80"/>
<line x1="84.20" y1="323.80" x2="89.20" y2="323.80" stroke="#555" stroke-width="0.80"/>
<rect x="83.1" y="308.2" width="7.2" height="12.8" fill="#4650f5" stroke="#2a2a90" stroke-width="0.8"/>
<text transform="translate(92.20,297.60) rotate(-90) scale(0.870,1)" font-size="10.20" font-weight="bold" fill="#111" >CTNNB1</text>
<line x1="101.90" y1="378.60" x2="101.90" y2="379.40" stroke="#555" stroke-width="0.80"/>
<line x1="99.40" y1="379.40" x2="104.40" y2="379.40" stroke="#555" stroke-width="0.80"/>
<rect x="98.3" y="308.2" width="7.2" height="70.4" fill="#4650f5" stroke="#2a2a90" stroke-width="0.8"/>
<text transform="translate(105.70,297.60) rotate(-90) scale(0.870,1)" font-size="10.20" font-weight="bold" fill="#111" >WNT1</text>
<line x1="117.30" y1="351.40" x2="117.30" y2="357.00" stroke="#555" stroke-width="0.80"/>
<line x1="114.80" y1="357.00" x2="119.80" y2="357.00" stroke="#555" stroke-width="0.80"/>
<rect x="113.7" y="308.2" width="7.2" height="43.2" fill="#4650f5" stroke="#2a2a90" stroke-width="0.8"/>
<text transform="translate(120.80,297.60) rotate(-90) scale(0.870,1)" font-size="10.20" font-weight="bold" fill="#111" >WNT3A</text>
<line x1="132.30" y1="342.60" x2="132.30" y2="349.80" stroke="#555" stroke-width="0.80"/>
<line x1="129.80" y1="349.80" x2="134.80" y2="349.80" stroke="#555" stroke-width="0.80"/>
<rect x="128.7" y="308.2" width="7.2" height="34.4" fill="#4650f5" stroke="#2a2a90" stroke-width="0.8"/>
<text transform="translate(135.20,297.60) rotate(-90) scale(0.870,1)" font-size="10.20" font-weight="bold" fill="#111" >FZD1</text>
<line x1="147.30" y1="316.60" x2="147.30" y2="318.20" stroke="#555" stroke-width="0.80"/>
<line x1="144.80" y1="318.20" x2="149.80" y2="318.20" stroke="#555" stroke-width="0.80"/>
<rect x="143.7" y="308.2" width="7.2" height="8.4" fill="#4650f5" stroke="#2a2a90" stroke-width="0.8"/>
<text transform="translate(151.30,297.60) rotate(-90) scale(0.870,1)" font-size="10.20" font-weight="bold" fill="#111" >FZD7</text>
<line x1="163.20" y1="316.20" x2="163.20" y2="319.00" stroke="#555" stroke-width="0.80"/>
<line x1="160.70" y1="319.00" x2="165.70" y2="319.00" stroke="#555" stroke-width="0.80"/>
<rect x="159.6" y="308.2" width="7.2" height="8.0" fill="#4650f5" stroke="#2a2a90" stroke-width="0.8"/>
<text transform="translate(165.10,297.60) rotate(-90) scale(0.870,1)" font-size="10.20" font-weight="bold" fill="#111" >LEF1</text>
<line x1="178.00" y1="322.20" x2="178.00" y2="325.80" stroke="#555" stroke-width="0.80"/>
<line x1="175.50" y1="325.80" x2="180.50" y2="325.80" stroke="#555" stroke-width="0.80"/>
<rect x="174.4" y="308.2" width="7.2" height="14.0" fill="#4650f5" stroke="#2a2a90" stroke-width="0.8"/>
<text transform="translate(180.90,297.60) rotate(-90) scale(0.870,1)" font-size="10.20" font-weight="bold" fill="#111" >LRP5</text>
<line x1="193.40" y1="319.00" x2="193.40" y2="323.80" stroke="#555" stroke-width="0.80"/>
<line x1="190.90" y1="323.80" x2="195.90" y2="323.80" stroke="#555" stroke-width="0.80"/>
<rect x="189.8" y="308.2" width="7.2" height="10.8" fill="#4650f5" stroke="#2a2a90" stroke-width="0.8"/>
<text transform="translate(196.80,297.60) rotate(-90) scale(0.870,1)" font-size="10.20" font-weight="bold" fill="#111" >LRP6</text>
<line x1="208.40" y1="316.20" x2="208.40" y2="319.00" stroke="#555" stroke-width="0.80"/>
<line x1="205.90" y1="319.00" x2="210.90" y2="319.00" stroke="#555" stroke-width="0.80"/>
<rect x="204.8" y="308.2" width="7.2" height="8.0" fill="#4650f5" stroke="#2a2a90" stroke-width="0.8"/>
<text transform="translate(210.60,297.60) rotate(-90) scale(0.870,1)" font-size="10.20" font-weight="bold" fill="#111" >MYC</text>
<line x1="223.60" y1="318.60" x2="223.60" y2="329.00" stroke="#555" stroke-width="0.80"/>
<line x1="221.10" y1="329.00" x2="226.10" y2="329.00" stroke="#555" stroke-width="0.80"/>
<rect x="220.0" y="308.2" width="7.2" height="10.4" fill="#4650f5" stroke="#2a2a90" stroke-width="0.8"/>
<text transform="translate(225.90,297.60) rotate(-90) scale(0.870,1)" font-size="10.20" font-weight="bold" fill="#111" >APC</text>
<line x1="239.00" y1="316.60" x2="239.00" y2="319.40" stroke="#555" stroke-width="0.80"/>
<line x1="236.50" y1="319.40" x2="241.50" y2="319.40" stroke="#555" stroke-width="0.80"/>
<rect x="235.4" y="308.2" width="7.2" height="8.4" fill="#4650f5" stroke="#2a2a90" stroke-width="0.8"/>
<text transform="translate(239.70,297.60) rotate(-90) scale(0.870,1)" font-size="10.20" font-weight="bold" fill="#111" >AXIN</text>
<text transform="translate(35.60,327.80) rotate(-90)" font-size="10.30" font-weight="bold" text-anchor="middle" fill="#111" textLength="130.5" lengthAdjust="spacing">Fold change over actin</text>
<text transform="translate(150.10,418.40)" font-size="11.80" font-weight="bold" text-anchor="middle" textLength="130.00" lengthAdjust="spacingAndGlyphs" fill="#111" >CANONICAL PATHWAY</text>
<text transform="translate(264.40,246.60)" font-size="14.60" font-weight="bold" fill="#111" >D</text>
<text transform="translate(341.20,301.30)" font-size="10.40" font-weight="bold" textLength="91.00" lengthAdjust="spacingAndGlyphs" fill="#111" >100ng/mL CXCl12</text>
<line x1="320.80" y1="305.80" x2="454.30" y2="305.80" stroke="#555" stroke-width="0.90"/>
<text transform="translate(304.70,317.90) scale(0.900,1)" font-size="10.50" fill="#222" style="stroke-width:0.38px">C</text>
<text transform="translate(322.90,317.90) scale(0.900,1)" font-size="10.50" fill="#222" style="stroke-width:0.38px">5&#8217;</text>
<text transform="translate(339.00,317.90) scale(0.900,1)" font-size="10.50" fill="#222" style="stroke-width:0.38px">30&#8217;</text>
<text transform="translate(360.00,317.90) scale(0.900,1)" font-size="10.50" fill="#222" style="stroke-width:0.38px">1h</text>
<text transform="translate(382.20,317.90) scale(0.900,1)" font-size="10.50" fill="#222" style="stroke-width:0.38px">3h</text>
<text transform="translate(401.40,317.90) scale(0.900,1)" font-size="10.50" fill="#222" style="stroke-width:0.38px">6h</text>
<text transform="translate(419.50,317.90) scale(0.900,1)" font-size="10.50" fill="#222" style="stroke-width:0.38px">12h</text>
<text transform="translate(440.00,317.90) scale(0.900,1)" font-size="10.50" fill="#222" style="stroke-width:0.38px">24h</text>
<rect x="296.5" y="319" width="163" height="15.3" fill="url(#gD1)"/>
<rect x="296.5" y="319" width="163" height="15.3" fill="url(#gD1h)"/>
<rect x="298.0" y="324.2" width="20.0" height="3.6" rx="1.8" fill="#404040" opacity="1.00" filter="url(#bl)"/>
<rect x="321.0" y="324.2" width="17.0" height="3.6" rx="1.8" fill="#777" opacity="1.00" filter="url(#bl)"/>
<rect x="340.0" y="324.2" width="17.0" height="3.6" rx="1.8" fill="#9a9a9a" opacity="1.00" filter="url(#bl)"/>
<rect x="359.0" y="324.2" width="18.0" height="3.6" rx="1.8" fill="#858585" opacity="1.00" filter="url(#bl)"/>
<rect x="380.0" y="324.2" width="18.0" height="3.6" rx="1.8" fill="#b0b0b0" opacity="1.00" filter="url(#bl)"/>
<rect x="400.0" y="324.2" width="18.0" height="3.6" rx="1.8" fill="#a5a5a5" opacity="1.00" filter="url(#bl)"/>
<rect x="419.0" y="324.2" width="21.0" height="3.6" rx="1.8" fill="#979797" opacity="1.00" filter="url(#bl)"/>
<rect x="441.0" y="324.2" width="17.0" height="3.6" rx="1.8" fill="#cacaca" opacity="1.00" filter="url(#bl)"/>
<rect x="296.5" y="336.5" width="163" height="12.8" fill="url(#gD2)"/>
<rect x="297.0" y="340.3" width="162.0" height="5.0" rx="2.5" fill="#6e6e6e" opacity="0.60" filter="url(#bl)"/>
<rect x="438.0" y="338.5" width="21.5" height="8.0" rx="4.0" fill="#4a4a4a" opacity="0.35" filter="url(#bl)"/>
<rect x="297.0" y="339.0" width="21.0" height="7.0" rx="3.5" fill="#666" opacity="0.60" filter="url(#bl)"/>
<rect x="296.5" y="319.0" width="163.0" height="15.3" fill="#000" filter="url(#grain)" opacity="0.22"/>
<rect x="296.5" y="336.5" width="163.0" height="12.8" fill="#000" filter="url(#grain)" opacity="0.30"/>
<text transform="translate(461.80,330.80)" font-size="11.90" font-weight="bold" fill="#333" style="stroke-width:0.1px;stroke:#333"><tspan font-family="Liberation Serif, serif" font-weight="normal">&#946;</tspan>&#8211;catenin</text>
<text transform="translate(461.80,345.90)" font-size="11.90" font-weight="bold" fill="#333" style="stroke-width:0.1px;stroke:#333"><tspan font-family="Liberation Serif, serif" font-weight="normal">&#946;</tspan>-actin</text>
<text transform="translate(0.50,446.40)" font-size="14.60" font-weight="bold" fill="#111" >E</text>
<text transform="translate(66.50,475.30)" font-size="10.50" font-weight="bold" textLength="90.80" lengthAdjust="spacingAndGlyphs" fill="#111" >100ng/mL CXCl12</text>
<line x1="51.30" y1="479.30" x2="172.00" y2="479.30" stroke="#555" stroke-width="0.90"/>
<text transform="translate(33.00,492.80) scale(0.860,1)" font-size="9.60" fill="#222" style="stroke-width:0.5px">C</text>
<text transform="translate(50.00,492.80) scale(0.860,1)" font-size="9.60" fill="#222" style="stroke-width:0.5px">5</text>
<text transform="translate(64.00,492.80) scale(0.860,1)" font-size="9.60" fill="#222" style="stroke-width:0.5px">30</text>
<text transform="translate(85.00,492.80) scale(0.860,1)" font-size="9.60" fill="#222" style="stroke-width:0.5px">1h</text>
<text transform="translate(100.60,492.80) scale(0.860,1)" font-size="9.60" fill="#222" style="stroke-width:0.5px">3h</text>
<text transform="translate(117.30,492.80) scale(0.860,1)" font-size="9.60" fill="#222" style="stroke-width:0.5px">6h</text>
<text transform="translate(134.20,492.80) scale(0.860,1)" font-size="9.60" fill="#222" style="stroke-width:0.5px">12h</text>
<text transform="translate(154.60,492.80) scale(0.860,1)" font-size="9.60" fill="#222" style="stroke-width:0.5px">24h</text>
<rect x="28" y="494.6" width="144.3" height="12.3" fill="#d3d3d3"/>
<rect x="30.0" y="495.5" width="140.0" height="3.0" rx="1.5" fill="#c4c4c4" opacity="0.80" filter="url(#bl)"/>
<rect x="30.0" y="504.0" width="140.0" height="2.0" rx="1.0" fill="#e2e2e2" opacity="0.80" filter="url(#bl)"/>
<rect x="30.0" y="499.4" width="17.0" height="3.2" rx="1.6" fill="#b4b4b4" opacity="1.00" filter="url(#bl)"/>
<rect x="48.0" y="499.4" width="16.0" height="3.2" rx="1.6" fill="#b0b0b0" opacity="1.00" filter="url(#bl)"/>
<rect x="65.0" y="499.4" width="18.0" height="3.2" rx="1.6" fill="#a8a8a8" opacity="1.00" filter="url(#bl)"/>
<rect x="84.0" y="499.4" width="15.0" height="3.2" rx="1.6" fill="#b6b6b6" opacity="1.00" filter="url(#bl)"/>
<rect x="100.0" y="499.2" width="16.0" height="3.6" rx="1.8" fill="#a0a0a0" opacity="1.00" filter="url(#bl)"/>
<rect x="116.0" y="498.5" width="16.0" height="5.0" rx="2.5" fill="#707070" opacity="1.00" filter="url(#bl)"/>
<rect x="131.0" y="498.4" width="18.0" height="5.2" rx="2.6" fill="#555" opacity="1.00" filter="url(#bl)"/>
<rect x="149.0" y="499.0" width="21.0" height="4.0" rx="2.0" fill="#959595" opacity="1.00" filter="url(#bl)"/>
<rect x="28.0" y="494.6" width="144.3" height="12.3" fill="#000" filter="url(#grain)" opacity="0.25"/>
<rect x="30" y="509.5" width="141.5" height="9.5" fill="#ececec"/>
<rect x="86.0" y="511.6" width="85.0" height="5.5" rx="2.8" fill="#9a9a9a" opacity="0.90" filter="url(#bl)"/>
<rect x="33.0" y="512.2" width="15.0" height="4.5" rx="2.2" fill="#a4a4a4" opacity="1.00" filter="url(#bl)"/>
<rect x="49.0" y="511.8" width="18.0" height="5.5" rx="2.8" fill="#6e6e6e" opacity="1.00" filter="url(#bl)"/>
<rect x="68.0" y="512.8" width="16.0" height="3.5" rx="1.8" fill="#d4d4d4" opacity="1.00" filter="url(#bl)"/>
<rect x="86.0" y="511.8" width="14.0" height="5.5" rx="2.8" fill="#858585" opacity="1.00" filter="url(#bl)"/>
<rect x="100.0" y="511.5" width="16.0" height="6.0" rx="3.0" fill="#7a7a7a" opacity="1.00" filter="url(#bl)"/>
<rect x="116.0" y="511.8" width="15.0" height="5.5" rx="2.8" fill="#959595" opacity="1.00" filter="url(#bl)"/>
<rect x="132.0" y="511.5" width="16.0" height="6.0" rx="3.0" fill="#6e6e6e" opacity="1.00" filter="url(#bl)"/>
<rect x="149.0" y="511.8" width="22.0" height="5.5" rx="2.8" fill="#959595" opacity="1.00" filter="url(#bl)"/>
<path d="M30.4,526.6 C50,525.8 70,527.6 90,526.8 S130,526.2 150,527.2 S166,526.4 172,526.8" stroke="#1c1c1c" stroke-width="2.0" fill="none"/>
<text transform="translate(176.20,503.50) scale(0.870,1)" font-size="9.60" font-weight="bold" fill="#222" style="stroke-width:0.15px">WNT5A</text>
<text transform="translate(176.20,516.00) scale(0.870,1)" font-size="9.60" font-weight="bold" fill="#222" style="stroke-width:0.15px">FZD2</text>
<text transform="translate(176.20,530.60) scale(0.880,1)" font-size="9.60" font-weight="bold" fill="#222" style="stroke-width:0.15px">ACTIN</text>
<text transform="translate(262.80,446.00)" font-size="14.60" font-weight="bold" fill="#111" >F</text>
<text transform="translate(347.20,489.40) rotate(-90) scale(0.870,1)" font-size="8.60" font-weight="bold" fill="#2a2a2a" style="stroke-width:0.1px">UNTR</text>
<text transform="translate(368.90,489.70) rotate(-90) scale(0.870,1)" font-size="8.60" font-weight="bold" fill="#2a2a2a" style="stroke-width:0.1px">CXCL12</text>
<text transform="translate(390.00,490.20) rotate(-90) scale(0.870,1)" font-size="8.60" font-weight="bold" fill="#2a2a2a" style="stroke-width:0.1px">CCL19</text>
<rect x="330.4" y="492.6" width="70.6" height="16.2" fill="#e4e4e4"/>
<rect x="334.0" y="497.8" width="22.0" height="6.5" rx="3.2" fill="#5e5e5e" opacity="1.00" filter="url(#bl)"/>
<rect x="354.0" y="496.0" width="24.0" height="12.0" rx="6.0" fill="#3c3c3c" opacity="1.00" filter="url(#bl)"/>
<rect x="360.0" y="497.5" width="12.0" height="3.0" rx="1.5" fill="#707070" opacity="0.50" filter="url(#bl)"/>
<rect x="377.0" y="499.6" width="22.0" height="3.8" rx="1.9" fill="#a8a8a8" opacity="1.00" filter="url(#bl)"/>
<rect x="393.0" y="499.2" width="6.5" height="4.5" rx="2.2" fill="#777" opacity="1.00" filter="url(#bl)"/>
<rect x="330.4" y="492.6" width="70.6" height="16.2" fill="#000" filter="url(#grain)" opacity="0.20"/>
<rect x="329.6" y="511.8" width="70.8" height="13.9" fill="#cdcdcd"/>
<rect x="330.0" y="513.9" width="70.0" height="5.8" rx="2.9" fill="#505050" opacity="1.00" filter="url(#bl)"/>
<rect x="329.6" y="511.8" width="70.8" height="13.9" fill="#000" filter="url(#grain)" opacity="0.25"/>
<text transform="translate(402.30,505.80)" font-size="10.50" font-weight="bold" textLength="31.50" lengthAdjust="spacingAndGlyphs" fill="#222" style="stroke-width:0.15px">WNT5A</text>
<text transform="translate(403.80,521.90)" font-size="12.00" font-weight="bold" fill="#222" style="stroke-width:0.1px"><tspan font-family="Liberation Serif, serif" font-weight="normal">&#946;</tspan>-actin</text>
</svg>
</body></html>
